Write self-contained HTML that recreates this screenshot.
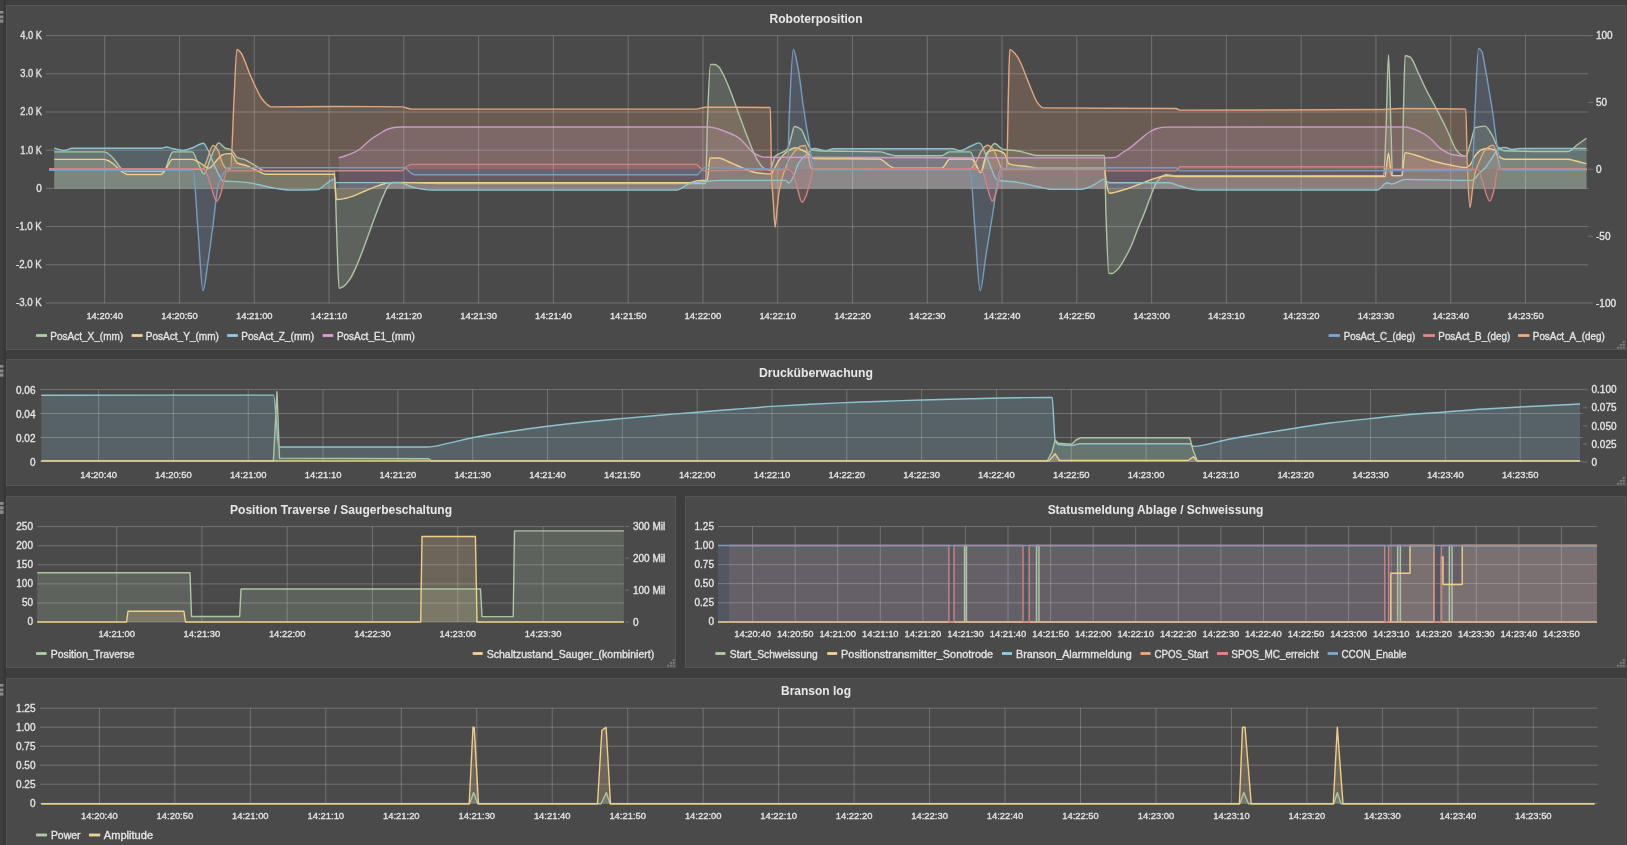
<!DOCTYPE html>
<html><head><meta charset="utf-8"><style>html,body{margin:0;padding:0;background:#3e3e3e;overflow:hidden}svg{display:block;will-change:transform}</style></head>
<body>
<svg width="1627" height="845" viewBox="0 0 1627 845" font-family="Liberation Sans, sans-serif">
<rect width="1627" height="845" fill="#3e3e3e"/>
<defs><clipPath id="c1"><rect x="46" y="30" width="1548" height="275"/></clipPath><clipPath id="c2"><rect x="40" y="385" width="1541" height="78"/></clipPath></defs>
<rect x="3.5" y="0" width="2.5" height="845" fill="#373737"/>
<rect x="6.5" y="5.5" width="1619" height="344" fill="#4b4a4b" stroke="#555555" stroke-width="1"/>
<rect x="0" y="11" width="3.4" height="2.6" fill="#8a8a8a"/>
<rect x="0" y="15.5" width="3.4" height="2.8" fill="#8a8a8a"/>
<rect x="0" y="19.5" width="3.4" height="3.2" fill="#8a8a8a"/>
<text x="816.0" y="23.1" font-size="12" text-anchor="middle" fill="#e8e8e8" stroke="#e8e8e8" stroke-width="0" font-weight="bold" textLength="93" lengthAdjust="spacingAndGlyphs">Roboterposition</text>
<text x="41.8" y="39.0" font-size="10" text-anchor="end" fill="#e6e6e6" stroke="#e6e6e6" stroke-width="0.32" font-weight="normal" textLength="21.5" lengthAdjust="spacingAndGlyphs">4.0 K</text>
<text x="41.8" y="77.2" font-size="10" text-anchor="end" fill="#e6e6e6" stroke="#e6e6e6" stroke-width="0.32" font-weight="normal" textLength="21.5" lengthAdjust="spacingAndGlyphs">3.0 K</text>
<text x="41.8" y="115.4" font-size="10" text-anchor="end" fill="#e6e6e6" stroke="#e6e6e6" stroke-width="0.32" font-weight="normal" textLength="21.5" lengthAdjust="spacingAndGlyphs">2.0 K</text>
<text x="41.8" y="153.6" font-size="10" text-anchor="end" fill="#e6e6e6" stroke="#e6e6e6" stroke-width="0.32" font-weight="normal" textLength="21.5" lengthAdjust="spacingAndGlyphs">1.0 K</text>
<text x="41.8" y="191.8" font-size="10" text-anchor="end" fill="#e6e6e6" stroke="#e6e6e6" stroke-width="0.32" font-weight="normal">0</text>
<text x="41.8" y="230.0" font-size="10" text-anchor="end" fill="#e6e6e6" stroke="#e6e6e6" stroke-width="0.32" font-weight="normal" textLength="25.8" lengthAdjust="spacingAndGlyphs">-1.0 K</text>
<text x="41.8" y="268.2" font-size="10" text-anchor="end" fill="#e6e6e6" stroke="#e6e6e6" stroke-width="0.32" font-weight="normal" textLength="25.8" lengthAdjust="spacingAndGlyphs">-2.0 K</text>
<text x="41.8" y="306.4" font-size="10" text-anchor="end" fill="#e6e6e6" stroke="#e6e6e6" stroke-width="0.32" font-weight="normal" textLength="25.8" lengthAdjust="spacingAndGlyphs">-3.0 K</text>
<text x="1596.0" y="39.2" font-size="10" text-anchor="start" fill="#e6e6e6" stroke="#e6e6e6" stroke-width="0.32" font-weight="normal">100</text>
<line x1="1588.4" y1="35.6" x2="1593" y2="35.6" stroke="#6e6e6e"/>
<text x="1596.0" y="106.0" font-size="10" text-anchor="start" fill="#e6e6e6" stroke="#e6e6e6" stroke-width="0.32" font-weight="normal">50</text>
<line x1="1588.4" y1="102.4" x2="1593" y2="102.4" stroke="#6e6e6e"/>
<text x="1596.0" y="172.9" font-size="10" text-anchor="start" fill="#e6e6e6" stroke="#e6e6e6" stroke-width="0.32" font-weight="normal">0</text>
<line x1="1588.4" y1="169.3" x2="1593" y2="169.3" stroke="#6e6e6e"/>
<text x="1596.0" y="239.8" font-size="10" text-anchor="start" fill="#e6e6e6" stroke="#e6e6e6" stroke-width="0.32" font-weight="normal">-50</text>
<line x1="1588.4" y1="236.2" x2="1593" y2="236.2" stroke="#6e6e6e"/>
<text x="1596.0" y="306.6" font-size="10" text-anchor="start" fill="#e6e6e6" stroke="#e6e6e6" stroke-width="0.32" font-weight="normal">-100</text>
<line x1="1588.4" y1="303" x2="1593" y2="303" stroke="#6e6e6e"/>
<text x="104.7" y="318.7" font-size="9.7" text-anchor="middle" fill="#e6e6e6" stroke="#e6e6e6" stroke-width="0.32" font-weight="normal" textLength="36.6" lengthAdjust="spacingAndGlyphs">14:20:40</text>
<text x="179.5" y="318.7" font-size="9.7" text-anchor="middle" fill="#e6e6e6" stroke="#e6e6e6" stroke-width="0.32" font-weight="normal" textLength="36.6" lengthAdjust="spacingAndGlyphs">14:20:50</text>
<text x="254.3" y="318.7" font-size="9.7" text-anchor="middle" fill="#e6e6e6" stroke="#e6e6e6" stroke-width="0.32" font-weight="normal" textLength="36.6" lengthAdjust="spacingAndGlyphs">14:21:00</text>
<text x="329.0" y="318.7" font-size="9.7" text-anchor="middle" fill="#e6e6e6" stroke="#e6e6e6" stroke-width="0.32" font-weight="normal" textLength="36.6" lengthAdjust="spacingAndGlyphs">14:21:10</text>
<text x="403.8" y="318.7" font-size="9.7" text-anchor="middle" fill="#e6e6e6" stroke="#e6e6e6" stroke-width="0.32" font-weight="normal" textLength="36.6" lengthAdjust="spacingAndGlyphs">14:21:20</text>
<text x="478.6" y="318.7" font-size="9.7" text-anchor="middle" fill="#e6e6e6" stroke="#e6e6e6" stroke-width="0.32" font-weight="normal" textLength="36.6" lengthAdjust="spacingAndGlyphs">14:21:30</text>
<text x="553.4" y="318.7" font-size="9.7" text-anchor="middle" fill="#e6e6e6" stroke="#e6e6e6" stroke-width="0.32" font-weight="normal" textLength="36.6" lengthAdjust="spacingAndGlyphs">14:21:40</text>
<text x="628.2" y="318.7" font-size="9.7" text-anchor="middle" fill="#e6e6e6" stroke="#e6e6e6" stroke-width="0.32" font-weight="normal" textLength="36.6" lengthAdjust="spacingAndGlyphs">14:21:50</text>
<text x="702.9" y="318.7" font-size="9.7" text-anchor="middle" fill="#e6e6e6" stroke="#e6e6e6" stroke-width="0.32" font-weight="normal" textLength="36.6" lengthAdjust="spacingAndGlyphs">14:22:00</text>
<text x="777.7" y="318.7" font-size="9.7" text-anchor="middle" fill="#e6e6e6" stroke="#e6e6e6" stroke-width="0.32" font-weight="normal" textLength="36.6" lengthAdjust="spacingAndGlyphs">14:22:10</text>
<text x="852.5" y="318.7" font-size="9.7" text-anchor="middle" fill="#e6e6e6" stroke="#e6e6e6" stroke-width="0.32" font-weight="normal" textLength="36.6" lengthAdjust="spacingAndGlyphs">14:22:20</text>
<text x="927.3" y="318.7" font-size="9.7" text-anchor="middle" fill="#e6e6e6" stroke="#e6e6e6" stroke-width="0.32" font-weight="normal" textLength="36.6" lengthAdjust="spacingAndGlyphs">14:22:30</text>
<text x="1002.1" y="318.7" font-size="9.7" text-anchor="middle" fill="#e6e6e6" stroke="#e6e6e6" stroke-width="0.32" font-weight="normal" textLength="36.6" lengthAdjust="spacingAndGlyphs">14:22:40</text>
<text x="1076.8" y="318.7" font-size="9.7" text-anchor="middle" fill="#e6e6e6" stroke="#e6e6e6" stroke-width="0.32" font-weight="normal" textLength="36.6" lengthAdjust="spacingAndGlyphs">14:22:50</text>
<text x="1151.6" y="318.7" font-size="9.7" text-anchor="middle" fill="#e6e6e6" stroke="#e6e6e6" stroke-width="0.32" font-weight="normal" textLength="36.6" lengthAdjust="spacingAndGlyphs">14:23:00</text>
<text x="1226.4" y="318.7" font-size="9.7" text-anchor="middle" fill="#e6e6e6" stroke="#e6e6e6" stroke-width="0.32" font-weight="normal" textLength="36.6" lengthAdjust="spacingAndGlyphs">14:23:10</text>
<text x="1301.2" y="318.7" font-size="9.7" text-anchor="middle" fill="#e6e6e6" stroke="#e6e6e6" stroke-width="0.32" font-weight="normal" textLength="36.6" lengthAdjust="spacingAndGlyphs">14:23:20</text>
<text x="1376.0" y="318.7" font-size="9.7" text-anchor="middle" fill="#e6e6e6" stroke="#e6e6e6" stroke-width="0.32" font-weight="normal" textLength="36.6" lengthAdjust="spacingAndGlyphs">14:23:30</text>
<text x="1450.7" y="318.7" font-size="9.7" text-anchor="middle" fill="#e6e6e6" stroke="#e6e6e6" stroke-width="0.32" font-weight="normal" textLength="36.6" lengthAdjust="spacingAndGlyphs">14:23:40</text>
<text x="1525.5" y="318.7" font-size="9.7" text-anchor="middle" fill="#e6e6e6" stroke="#e6e6e6" stroke-width="0.32" font-weight="normal" textLength="36.6" lengthAdjust="spacingAndGlyphs">14:23:50</text>
<rect x="36.1" y="334.09999999999997" width="10.899999999999999" height="2.8" fill="#b0cea5"/>
<text x="50.3" y="339.8" font-size="10.4" text-anchor="start" fill="#e6e6e6" stroke="#e6e6e6" stroke-width="0.32" font-weight="normal" textLength="72.9" lengthAdjust="spacingAndGlyphs">PosAct_X_(mm)</text>
<rect x="131.6" y="334.09999999999997" width="11.0" height="2.8" fill="#f1d492"/>
<text x="145.8" y="339.8" font-size="10.4" text-anchor="start" fill="#e6e6e6" stroke="#e6e6e6" stroke-width="0.32" font-weight="normal" textLength="73.1" lengthAdjust="spacingAndGlyphs">PosAct_Y_(mm)</text>
<rect x="227.2" y="334.09999999999997" width="10.600000000000023" height="2.8" fill="#89cfde"/>
<text x="241.3" y="339.8" font-size="10.4" text-anchor="start" fill="#e6e6e6" stroke="#e6e6e6" stroke-width="0.32" font-weight="normal" textLength="72.8" lengthAdjust="spacingAndGlyphs">PosAct_Z_(mm)</text>
<rect x="322.7" y="334.09999999999997" width="10.5" height="2.8" fill="#da9ed4"/>
<text x="336.9" y="339.8" font-size="10.4" text-anchor="start" fill="#e6e6e6" stroke="#e6e6e6" stroke-width="0.32" font-weight="normal" textLength="77.9" lengthAdjust="spacingAndGlyphs">PosAct_E1_(mm)</text>
<rect x="1328.6" y="334.09999999999997" width="11.300000000000182" height="2.8" fill="#78a9d2"/>
<text x="1343.8" y="339.8" font-size="10.4" text-anchor="start" fill="#e6e6e6" stroke="#e6e6e6" stroke-width="0.32" font-weight="normal" textLength="71.4" lengthAdjust="spacingAndGlyphs">PosAct_C_(deg)</text>
<rect x="1423.1" y="334.09999999999997" width="11.800000000000182" height="2.8" fill="#e78683"/>
<text x="1438.3" y="339.8" font-size="10.4" text-anchor="start" fill="#e6e6e6" stroke="#e6e6e6" stroke-width="0.32" font-weight="normal" textLength="71.9" lengthAdjust="spacingAndGlyphs">PosAct_B_(deg)</text>
<rect x="1518.1" y="334.09999999999997" width="11.300000000000182" height="2.8" fill="#f4aa79"/>
<text x="1532.8" y="339.8" font-size="10.4" text-anchor="start" fill="#e6e6e6" stroke="#e6e6e6" stroke-width="0.32" font-weight="normal" textLength="71.9" lengthAdjust="spacingAndGlyphs">PosAct_A_(deg)</text>
<rect x="1622.7" y="341.1" width="2" height="2" fill="#7c7c7c"/>
<rect x="1622.7" y="343.9" width="2" height="2" fill="#7c7c7c"/>
<rect x="1619.9" y="343.9" width="2" height="2" fill="#7c7c7c"/>
<rect x="1622.7" y="346.7" width="2" height="2" fill="#7c7c7c"/>
<rect x="1619.9" y="346.7" width="2" height="2" fill="#7c7c7c"/>
<rect x="1617.1" y="346.7" width="2" height="2" fill="#7c7c7c"/>
<g clip-path="url(#c1)"><path d="M54.20,151.90 C70.77,151.90 87.33,151.90 103.90,151.90 C105.27,151.90 106.63,152.77 108.00,153.50 C109.67,154.40 111.33,156.23 113.00,158.00 C114.67,159.77 116.33,162.38 118.00,164.50 C119.33,166.20 120.67,168.37 122.00,169.50 C123.07,170.41 124.13,171.60 125.20,171.60 C137.67,171.60 150.13,171.60 162.60,171.60 C163.73,171.60 164.87,169.79 166.00,168.00 C167.00,166.42 168.00,161.29 169.00,159.00 C170.30,156.02 171.60,151.90 172.90,151.90 C179.37,151.90 185.83,151.90 192.30,151.90 C194.20,151.90 196.10,159.40 198.00,163.00 C199.97,166.73 201.93,173.90 203.90,173.90 C205.93,173.90 207.97,164.86 210.00,160.00 C211.33,156.81 212.67,152.50 214.00,150.00 C215.60,147.00 217.20,142.90 218.80,142.90 C220.87,142.90 222.93,147.30 225.00,148.10 C226.97,148.86 228.93,148.78 230.90,149.60 C233.10,150.52 235.30,156.78 237.50,157.70 C239.47,158.52 241.43,158.55 243.40,159.20 C247.10,160.43 250.80,163.14 254.50,165.10 C258.43,167.18 262.37,171.30 266.30,171.30 C289.03,171.30 311.77,171.30 334.50,171.30 C335.20,171.30 335.90,212.15 336.60,230.00 C337.43,251.24 338.27,288.30 339.10,288.30 C340.47,288.30 341.83,287.46 343.20,286.70 C345.43,285.46 347.67,282.41 349.90,279.20 C352.10,276.04 354.30,270.90 356.50,266.00 C358.70,261.10 360.90,255.19 363.10,249.40 C365.30,243.61 367.50,237.22 369.70,231.20 C371.93,225.09 374.17,218.83 376.40,213.00 C378.60,207.25 380.80,201.30 383.00,196.40 C384.63,192.76 386.27,188.41 387.90,186.50 C389.57,184.55 391.23,182.40 392.90,182.40 C395.10,182.40 397.30,182.40 399.50,182.40 C409.43,182.40 419.37,182.88 429.30,183.20 C432.87,183.31 436.43,183.60 440.00,183.60 C528.53,183.60 617.07,183.60 705.60,183.60 C706.23,183.60 706.87,135.74 707.50,120.00 C708.47,95.98 709.43,64.40 710.40,64.40 C711.93,64.40 713.47,64.43 715.00,64.50 C716.27,64.55 717.53,65.81 718.80,67.00 C720.20,68.31 721.60,71.34 723.00,74.00 C724.80,77.42 726.60,81.75 728.40,86.10 C731.60,93.83 734.80,103.12 738.00,111.70 C741.17,120.19 744.33,129.40 747.50,137.30 C750.70,145.29 753.90,154.43 757.10,159.60 C759.30,163.15 761.50,166.70 763.70,168.00 C765.67,169.16 767.63,170.30 769.60,170.30 C771.57,170.30 773.53,158.12 775.50,156.10 C779.47,152.03 783.43,153.50 787.40,149.00 C788.60,147.64 789.80,141.80 791.00,138.00 C792.17,134.31 793.33,126.50 794.50,126.50 C796.87,126.50 799.23,127.98 801.60,130.00 C803.07,131.25 804.53,137.08 806.00,140.00 C807.70,143.39 809.40,148.21 811.10,149.00 C813.47,150.09 815.83,150.70 818.20,150.80 C838.80,151.69 859.40,151.01 880.00,151.90 C882.67,152.01 885.33,153.33 888.00,154.00 C890.50,154.63 893.00,155.80 895.50,155.80 C911.00,155.80 926.50,155.80 942.00,155.80 C943.33,155.80 944.67,154.16 946.00,153.50 C947.23,152.89 948.47,151.90 949.70,151.90 C956.60,151.90 963.50,151.90 970.40,151.90 C971.93,151.90 973.47,158.90 975.00,162.00 C976.90,165.84 978.80,172.60 980.70,172.60 C982.80,172.60 984.90,159.13 987.00,155.00 C989.57,149.95 992.13,143.50 994.70,143.50 C997.23,143.50 999.77,148.54 1002.30,149.10 C1007.67,150.30 1013.03,150.10 1018.40,151.00 C1021.60,151.54 1024.80,152.75 1028.00,153.50 C1031.10,154.23 1034.20,155.50 1037.30,155.50 C1059.70,155.50 1082.10,155.50 1104.50,155.50 C1105.00,155.50 1105.50,200.92 1106.00,215.00 C1106.93,241.29 1107.87,273.02 1108.80,273.20 C1109.87,273.40 1110.93,273.50 1112.00,273.50 C1114.13,273.50 1116.27,270.65 1118.40,268.40 C1120.60,266.08 1122.80,261.83 1125.00,258.00 C1127.07,254.41 1129.13,250.58 1131.20,246.00 C1133.13,241.71 1135.07,235.85 1137.00,231.00 C1139.33,225.15 1141.67,219.94 1144.00,214.00 C1146.00,208.91 1148.00,203.04 1150.00,198.00 C1152.23,192.37 1154.47,185.18 1156.70,182.00 C1158.47,179.48 1160.23,177.62 1162.00,176.50 C1163.43,175.59 1164.87,174.50 1166.30,174.50 C1169.20,174.50 1172.10,175.70 1175.00,175.70 C1244.57,175.70 1314.13,175.70 1383.70,175.70 C1384.47,175.70 1385.23,148.30 1386.00,130.00 C1386.83,110.11 1387.67,54.80 1388.50,54.80 C1389.33,54.80 1390.17,104.79 1391.00,130.00 C1391.50,145.13 1392.00,175.60 1392.50,175.60 C1395.67,175.60 1398.83,175.60 1402.00,175.60 C1402.50,175.60 1403.00,129.12 1403.50,110.00 C1404.03,89.61 1404.57,55.80 1405.10,55.80 C1406.73,55.80 1408.37,56.33 1410.00,57.00 C1412.63,58.08 1415.27,66.67 1417.90,72.00 C1420.37,76.99 1422.83,83.02 1425.30,88.00 C1428.67,94.80 1432.03,100.55 1435.40,107.00 C1438.73,113.38 1442.07,119.52 1445.40,126.50 C1447.27,130.41 1449.13,134.91 1451.00,139.00 C1452.50,142.29 1454.00,146.42 1455.50,148.70 C1457.00,150.98 1458.50,153.06 1460.00,154.00 C1461.93,155.21 1463.87,156.40 1465.80,156.40 C1467.20,156.40 1468.60,149.10 1470.00,145.00 C1471.80,139.73 1473.60,128.32 1475.40,127.70 C1478.60,126.59 1481.80,126.10 1485.00,126.10 C1487.33,126.10 1489.67,131.32 1492.00,135.00 C1493.93,138.05 1495.87,144.97 1497.80,146.80 C1499.93,148.82 1502.07,150.63 1504.20,150.70 C1525.40,151.41 1546.60,151.50 1567.80,151.50 C1570.87,151.50 1573.93,147.18 1577.00,145.00 C1580.17,142.75 1583.33,140.47 1586.50,138.20 L1586.5,188.4 L54.2,188.4 Z" fill="#a3bc9a" fill-opacity="0.22" stroke="none"/><path d="M54.20,159.40 C70.77,159.40 87.33,159.40 103.90,159.40 C105.27,159.40 106.63,159.99 108.00,160.50 C110.00,161.25 112.00,162.96 114.00,164.50 C116.00,166.04 118.00,168.36 120.00,170.00 C121.33,171.09 122.67,172.31 124.00,173.00 C125.27,173.65 126.53,174.50 127.80,174.50 C138.77,174.50 149.73,174.50 160.70,174.50 C161.80,174.50 162.90,173.15 164.00,172.00 C165.33,170.61 166.67,166.99 168.00,165.00 C169.43,162.86 170.87,159.40 172.30,159.40 C178.97,159.40 185.63,159.40 192.30,159.40 C194.87,159.40 197.43,161.69 200.00,163.00 C203.00,164.53 206.00,168.10 209.00,168.10 C211.67,168.10 214.33,162.68 217.00,160.00 C218.67,158.32 220.33,155.72 222.00,155.00 C223.30,154.44 224.60,154.03 225.90,153.90 C227.60,153.73 229.30,153.60 231.00,153.60 C233.17,153.60 235.33,162.16 237.50,163.20 C240.70,164.73 243.90,164.69 247.10,165.80 C250.07,166.82 253.03,168.68 256.00,170.00 C259.43,171.52 262.87,174.30 266.30,174.30 C288.90,174.30 311.50,174.30 334.10,174.30 C334.87,174.30 335.63,199.50 336.40,199.50 C339.27,199.50 342.13,198.98 345.00,198.50 C347.50,198.08 350.00,197.15 352.50,196.30 C356.67,194.88 360.83,192.69 365.00,191.00 C370.00,188.97 375.00,186.83 380.00,185.20 C383.00,184.22 386.00,182.60 389.00,182.60 C489.20,182.60 589.40,182.60 689.60,182.60 C692.40,182.60 695.20,180.71 698.00,180.60 C701.07,180.48 704.13,180.56 707.20,180.40 C708.13,180.35 709.07,158.00 710.00,158.00 C712.93,158.00 715.87,158.00 718.80,158.00 C721.87,158.00 724.93,160.24 728.00,161.50 C731.33,162.87 734.67,164.65 738.00,166.00 C744.20,168.51 750.40,171.87 756.60,172.70 C761.33,173.33 766.07,173.90 770.80,173.90 C772.20,173.90 773.60,169.27 775.00,167.00 C776.77,164.13 778.53,160.67 780.30,158.50 C782.87,155.34 785.43,152.50 788.00,151.00 C790.57,149.50 793.13,147.80 795.70,147.80 C797.80,147.80 799.90,149.10 802.00,150.00 C804.23,150.95 806.47,152.09 808.70,153.70 C810.30,154.86 811.90,158.47 813.50,158.50 C835.67,158.96 857.83,158.54 880.00,159.00 C881.33,159.03 882.67,160.57 884.00,161.50 C885.67,162.66 887.33,164.47 889.00,165.50 C890.73,166.57 892.47,168.10 894.20,168.10 C910.13,168.10 926.07,168.10 942.00,168.10 C943.00,168.10 944.00,166.13 945.00,165.00 C946.57,163.22 948.13,159.00 949.70,159.00 C957.03,159.00 964.37,159.00 971.70,159.00 C973.13,159.00 974.57,162.94 976.00,165.00 C977.67,167.39 979.33,172.40 981.00,172.40 C982.00,172.40 983.00,165.14 984.00,162.00 C985.17,158.34 986.33,152.63 987.50,152.00 C990.00,150.64 992.50,150.00 995.00,150.00 C998.07,150.00 1001.13,151.30 1004.20,153.40 C1005.77,154.48 1007.33,163.26 1008.90,163.80 C1015.23,165.99 1021.57,165.75 1027.90,166.70 C1031.03,167.17 1034.17,168.10 1037.30,168.10 C1059.70,168.10 1082.10,168.10 1104.50,168.10 C1105.00,168.10 1105.50,177.23 1106.00,180.00 C1107.10,186.10 1108.20,193.20 1109.30,193.20 C1112.20,193.20 1115.10,192.18 1118.00,191.50 C1121.33,190.71 1124.67,189.61 1128.00,188.50 C1132.00,187.17 1136.00,185.51 1140.00,184.00 C1144.50,182.31 1149.00,180.25 1153.50,178.90 C1157.77,177.62 1162.03,175.70 1166.30,175.70 C1169.53,175.70 1172.77,176.60 1176.00,176.60 C1245.67,176.60 1315.33,176.60 1385.00,176.60 C1386.17,176.60 1387.33,153.30 1388.50,153.30 C1389.57,153.30 1390.63,175.60 1391.70,175.60 C1395.13,175.60 1398.57,175.60 1402.00,175.60 C1403.00,175.60 1404.00,152.60 1405.00,152.60 C1408.33,152.60 1411.67,154.09 1415.00,155.00 C1421.30,156.72 1427.60,159.48 1433.90,161.20 C1439.27,162.67 1444.63,163.96 1450.00,165.00 C1455.27,166.02 1460.53,167.60 1465.80,167.60 C1467.20,167.60 1468.60,166.27 1470.00,165.00 C1471.67,163.49 1473.33,158.11 1475.00,156.00 C1477.27,153.12 1479.53,150.12 1481.80,149.50 C1483.87,148.94 1485.93,148.50 1488.00,148.50 C1490.20,148.50 1492.40,149.15 1494.60,150.00 C1496.73,150.82 1498.87,157.11 1501.00,158.00 C1502.67,158.70 1504.33,159.30 1506.00,159.30 C1526.60,159.30 1547.20,159.30 1567.80,159.30 C1570.53,159.30 1573.27,160.37 1576.00,161.00 C1579.50,161.81 1583.00,162.87 1586.50,163.80 L1586.5,188.4 L54.2,188.4 Z" fill="#e2ca93" fill-opacity="0.22" stroke="none"/><path d="M54.20,148.30 C57.63,149.00 61.07,150.40 64.50,150.40 C67.10,150.40 69.70,148.30 72.30,148.30 C101.97,148.30 131.63,148.30 161.30,148.30 C163.03,148.30 164.77,147.00 166.50,147.00 C168.33,147.00 170.17,148.11 172.00,148.50 C175.77,149.31 179.53,150.40 183.30,150.40 C186.20,150.40 189.10,148.96 192.00,148.00 C195.77,146.75 199.53,143.20 203.30,143.20 C204.87,143.20 206.43,147.18 208.00,150.00 C209.67,153.00 211.33,158.17 213.00,162.00 C214.67,165.83 216.33,170.01 218.00,173.00 C219.77,176.17 221.53,180.82 223.30,181.00 C227.60,181.45 231.90,181.33 236.20,181.60 C240.80,181.89 245.40,182.29 250.00,182.90 C254.00,183.43 258.00,184.65 262.00,185.50 C266.60,186.48 271.20,187.72 275.80,188.40 C280.53,189.10 285.27,190.00 290.00,190.00 C299.33,190.00 308.67,189.89 318.00,189.50 C320.67,189.39 323.33,185.74 326.00,184.00 C328.47,182.39 330.93,179.40 333.40,179.40 C334.43,179.40 335.47,182.60 336.50,182.60 C357.67,182.60 378.83,182.60 400.00,182.60 C404.00,182.60 408.00,186.08 412.00,187.00 C418.23,188.43 424.47,190.00 430.70,190.00 C512.73,190.00 594.77,190.00 676.80,190.00 C681.07,190.00 685.33,184.53 689.60,183.60 C694.73,182.48 699.87,181.99 705.00,181.50 C710.00,181.02 715.00,180.40 720.00,180.40 C741.97,180.40 763.93,180.40 785.90,180.40 C786.93,180.40 787.97,183.00 789.00,183.00 C790.67,183.00 792.33,178.31 794.00,175.00 C795.57,171.89 797.13,165.25 798.70,162.80 C801.13,159.00 803.57,157.16 806.00,155.00 C808.87,152.45 811.73,148.50 814.60,148.50 C818.33,148.50 822.07,150.70 825.80,150.70 C828.40,150.70 831.00,148.70 833.60,148.70 C873.17,148.70 912.73,148.70 952.30,148.70 C954.87,148.70 957.43,150.70 960.00,150.70 C963.33,150.70 966.67,147.83 970.00,146.50 C973.13,145.25 976.27,142.90 979.40,142.90 C982.27,142.90 985.13,154.10 988.00,160.00 C991.17,166.52 994.33,179.69 997.50,180.30 C1002.90,181.34 1008.30,181.13 1013.70,181.80 C1021.57,182.77 1029.43,184.91 1037.30,186.50 C1042.03,187.46 1046.77,189.40 1051.50,189.40 C1061.00,189.40 1070.50,189.40 1080.00,189.40 C1083.13,189.40 1086.27,188.09 1089.40,187.00 C1091.93,186.12 1094.47,184.36 1097.00,183.00 C1099.20,181.82 1101.40,179.40 1103.60,179.40 C1105.50,179.40 1107.40,182.70 1109.30,182.70 C1129.37,182.70 1149.43,182.70 1169.50,182.70 C1173.00,182.70 1176.50,185.08 1180.00,186.00 C1186.10,187.60 1192.20,190.00 1198.30,190.00 C1257.97,190.00 1317.63,190.00 1377.30,190.00 C1380.53,190.00 1383.77,182.70 1387.00,182.70 C1388.67,182.70 1390.33,184.00 1392.00,184.00 C1396.37,184.00 1400.73,179.40 1405.10,179.40 C1427.47,179.40 1449.83,180.40 1472.20,180.40 C1474.57,180.40 1476.93,175.36 1479.30,173.10 C1481.20,171.29 1483.10,170.07 1485.00,168.00 C1487.33,165.45 1489.67,161.25 1492.00,158.00 C1494.33,154.75 1496.67,149.18 1499.00,148.50 C1501.00,147.92 1503.00,147.50 1505.00,147.50 C1507.33,147.50 1509.67,149.50 1512.00,149.50 C1514.67,149.50 1517.33,148.50 1520.00,148.50 C1542.17,148.50 1564.33,148.50 1586.50,148.50 L1586.5,188.4 L54.2,188.4 Z" fill="#81bbc8" fill-opacity="0.22" stroke="none"/><path d="M338.80,158.00 C343.37,156.40 347.93,155.21 352.50,153.20 C355.00,152.10 357.50,150.75 360.00,149.00 C362.00,147.60 364.00,145.25 366.00,143.50 C368.00,141.75 370.00,139.94 372.00,138.50 C374.67,136.58 377.33,135.09 380.00,133.50 C382.33,132.11 384.67,130.39 387.00,129.50 C389.33,128.61 391.67,127.80 394.00,127.50 C396.00,127.25 398.00,127.00 400.00,127.00 C502.93,127.00 605.87,127.00 708.80,127.00 C710.53,127.00 712.27,127.46 714.00,127.80 C716.00,128.20 718.00,128.85 720.00,129.50 C723.00,130.47 726.00,131.71 729.00,133.00 C732.00,134.29 735.00,135.37 738.00,137.30 C740.67,139.01 743.33,142.34 746.00,145.00 C748.63,147.63 751.27,151.64 753.90,153.20 C757.10,155.10 760.30,156.99 763.50,157.10 C767.50,157.23 771.50,157.28 775.50,157.30 C885.67,157.78 995.83,157.90 1106.00,157.90 C1109.07,157.90 1112.13,157.72 1115.20,157.40 C1117.47,157.16 1119.73,154.48 1122.00,153.00 C1125.07,150.99 1128.13,149.18 1131.20,146.90 C1134.13,144.72 1137.07,141.87 1140.00,139.50 C1143.43,136.72 1146.87,133.41 1150.30,131.50 C1152.53,130.25 1154.77,129.08 1157.00,128.50 C1159.57,127.83 1162.13,127.10 1164.70,127.10 C1244.83,127.00 1324.97,127.00 1405.10,127.00 C1407.40,127.00 1409.70,127.85 1412.00,128.50 C1416.10,129.66 1420.20,131.62 1424.30,134.00 C1426.87,135.49 1429.43,137.74 1432.00,140.00 C1434.77,142.43 1437.53,146.31 1440.30,148.40 C1442.53,150.09 1444.77,151.45 1447.00,152.50 C1449.00,153.44 1451.00,154.40 1453.00,154.80 C1457.27,155.66 1461.53,155.87 1465.80,156.40 L1465.8,188.4 L338.8,188.4 Z" fill="#c290bd" fill-opacity="0.22" stroke="none"/><path d="M49.00,169.30 C100.20,169.30 151.40,169.30 202.60,169.30 C204.07,169.30 205.53,163.30 207.00,160.00 C209.00,155.51 211.00,145.50 213.00,145.50 C214.67,145.50 216.33,147.65 218.00,150.00 C219.33,151.88 220.67,159.26 222.00,162.00 C223.30,164.67 224.60,167.64 225.90,168.10 C227.43,168.64 228.97,169.00 230.50,169.00 C231.67,169.00 232.83,121.56 234.00,100.00 C234.97,82.14 235.93,49.40 236.90,49.40 C238.27,49.40 239.63,51.31 241.00,53.00 C243.03,55.51 245.07,62.05 247.10,67.00 C248.40,70.16 249.70,73.94 251.00,77.00 C252.90,81.48 254.80,85.46 256.70,89.30 C258.13,92.19 259.57,95.40 261.00,97.50 C262.77,100.08 264.53,102.19 266.30,103.70 C267.87,105.04 269.43,106.90 271.00,106.90 C292.83,106.90 314.67,106.50 336.50,106.50 C358.33,106.50 380.17,106.56 402.00,106.90 C405.17,106.95 408.33,109.10 411.50,109.10 C506.33,109.10 601.17,109.10 696.00,109.10 C699.20,109.10 702.40,107.20 705.60,107.20 C727.17,107.20 748.73,107.21 770.30,107.50 C770.70,107.51 771.10,162.27 771.50,172.70 C772.17,190.08 772.83,195.08 773.50,205.00 C774.03,212.94 774.57,227.20 775.10,227.20 C775.73,227.20 776.37,215.63 777.00,210.00 C777.70,203.78 778.40,195.76 779.10,191.70 C780.67,182.62 782.23,177.44 783.80,172.70 C785.87,166.45 787.93,161.61 790.00,158.00 C791.67,155.09 793.33,152.83 795.00,151.00 C796.67,149.17 798.33,147.03 800.00,146.50 C801.73,145.95 803.47,145.50 805.20,145.50 C806.13,145.50 807.07,151.51 808.00,155.00 C809.03,158.87 810.07,167.17 811.10,168.00 C812.07,168.78 813.03,169.30 814.00,169.30 C865.97,169.30 917.93,169.30 969.90,169.30 C971.93,169.30 973.97,165.05 976.00,162.00 C978.00,159.00 980.00,152.38 982.00,150.00 C983.83,147.82 985.67,145.30 987.50,145.30 C989.33,145.30 991.17,147.09 993.00,149.00 C994.67,150.73 996.33,156.43 998.00,160.00 C999.43,163.07 1000.87,169.00 1002.30,169.00 C1003.77,169.00 1005.23,169.00 1006.70,169.00 C1007.30,169.00 1007.90,111.70 1008.50,90.00 C1008.93,74.33 1009.37,49.40 1009.80,49.40 C1010.87,49.40 1011.93,50.61 1013.00,51.50 C1014.60,52.84 1016.20,54.93 1017.80,57.40 C1019.20,59.56 1020.60,62.84 1022.00,66.00 C1023.80,70.06 1025.60,75.21 1027.40,79.70 C1028.93,83.53 1030.47,87.42 1032.00,91.00 C1033.67,94.89 1035.33,99.92 1037.00,102.10 C1039.13,104.89 1041.27,107.87 1043.40,107.90 C1087.60,108.47 1131.80,107.93 1176.00,108.50 C1177.33,108.52 1178.67,110.10 1180.00,110.10 C1247.67,110.10 1315.33,110.01 1383.00,109.50 C1388.67,109.46 1394.33,108.50 1400.00,108.50 C1421.93,108.50 1443.87,108.51 1465.80,109.10 C1466.33,109.11 1466.87,157.51 1467.40,169.20 C1468.27,188.20 1469.13,207.50 1470.00,207.50 C1471.00,207.50 1472.00,191.25 1473.00,185.00 C1473.80,180.00 1474.60,174.92 1475.40,172.00 C1476.93,166.40 1478.47,163.48 1480.00,160.00 C1481.67,156.22 1483.33,151.60 1485.00,150.00 C1487.67,147.43 1490.33,145.20 1493.00,145.20 C1494.33,145.20 1495.67,151.13 1497.00,155.00 C1498.33,158.87 1499.67,169.20 1501.00,169.20 C1529.67,169.30 1558.33,169.27 1587.00,169.30 L1587.0,169.3 L49.0,169.3 Z" fill="#d99c73" fill-opacity="0.22" stroke="none"/><path d="M49.00,170.30 C97.00,170.30 145.00,170.30 193.00,170.30 C194.67,170.30 196.33,209.95 198.00,230.00 C199.67,250.05 201.33,290.60 203.00,290.60 C204.67,290.60 206.33,272.75 208.00,262.00 C209.67,251.25 211.33,237.42 213.00,225.00 C214.77,211.83 216.53,191.61 218.30,185.20 C219.53,180.73 220.77,178.40 222.00,176.00 C223.43,173.21 224.87,170.83 226.30,169.20 C226.87,168.55 227.43,167.60 228.00,167.60 C287.00,167.60 346.00,167.60 405.00,167.60 C406.33,167.60 407.67,170.53 409.00,171.50 C410.90,172.88 412.80,174.70 414.70,174.70 C509.00,174.70 603.30,174.70 697.60,174.70 C698.73,174.70 699.87,172.26 701.00,171.00 C702.00,169.89 703.00,167.60 704.00,167.60 C731.80,167.60 759.60,169.10 787.40,169.10 C788.10,169.10 788.80,124.63 789.50,110.00 C790.77,83.53 792.03,49.50 793.30,49.50 C794.87,49.50 796.43,60.13 798.00,68.00 C800.00,78.04 802.00,97.90 804.00,111.00 C805.97,123.88 807.93,134.51 809.90,146.60 C811.10,153.98 812.30,168.48 813.50,169.10 C814.60,169.67 815.70,170.00 816.80,170.00 C867.83,170.00 918.87,170.00 969.90,170.00 C971.60,170.00 973.30,209.88 975.00,230.00 C976.70,250.12 978.40,290.70 980.10,290.70 C982.07,290.70 984.03,266.99 986.00,255.00 C988.33,240.78 990.67,226.00 993.00,212.00 C995.43,197.40 997.87,170.23 1000.30,169.20 C1001.87,168.54 1003.43,168.10 1005.00,168.10 C1038.17,168.10 1071.33,168.10 1104.50,168.10 C1105.47,168.10 1106.43,167.70 1107.40,167.70 C1130.27,167.70 1153.13,167.70 1176.00,167.70 C1177.33,167.70 1178.67,170.90 1180.00,170.90 C1277.40,170.90 1374.80,170.90 1472.20,170.50 C1473.13,170.50 1474.07,127.91 1475.00,110.00 C1476.20,86.97 1477.40,48.40 1478.60,48.40 C1479.73,48.40 1480.87,49.99 1482.00,52.00 C1483.00,53.77 1484.00,61.67 1485.00,67.00 C1486.33,74.11 1487.67,82.03 1489.00,90.00 C1490.33,97.97 1491.67,105.82 1493.00,114.90 C1494.33,123.98 1495.67,136.06 1497.00,145.00 C1498.33,153.94 1499.67,168.62 1501.00,169.20 C1502.33,169.78 1503.67,170.10 1505.00,170.10 C1532.33,170.10 1559.67,170.10 1587.00,170.10 L1587.0,169.3 L49.0,169.3 Z" fill="#678fb2" fill-opacity="0.22" stroke="none"/><path d="M49.00,168.70 C100.20,168.70 151.40,168.70 202.60,168.70 C203.73,168.70 204.87,170.42 206.00,172.00 C207.67,174.33 209.33,181.46 211.00,186.00 C212.90,191.18 214.80,201.10 216.70,201.10 C217.80,201.10 218.90,198.41 220.00,196.00 C221.00,193.81 222.00,188.80 223.00,185.00 C224.10,180.82 225.20,172.67 226.30,172.00 C227.53,171.25 228.77,170.80 230.00,170.80 C287.33,170.80 344.67,170.80 402.00,170.80 C403.33,170.80 404.67,167.86 406.00,167.00 C407.83,165.82 409.67,164.40 411.50,164.40 C506.33,164.40 601.17,164.40 696.00,164.40 C697.33,164.40 698.67,166.43 700.00,167.50 C701.33,168.57 702.67,170.80 704.00,170.80 C731.80,170.80 759.60,169.50 787.40,169.50 C789.03,169.50 790.67,170.53 792.30,172.00 C793.53,173.11 794.77,179.23 796.00,183.00 C798.03,189.22 800.07,202.30 802.10,202.30 C803.40,202.30 804.70,198.87 806.00,196.00 C807.33,193.06 808.67,186.79 810.00,182.00 C811.17,177.81 812.33,169.11 813.50,169.10 C866.23,168.71 918.97,168.70 971.70,168.70 C975.37,168.70 979.03,169.71 982.70,172.00 C984.13,172.90 985.57,181.62 987.00,186.00 C988.77,191.40 990.53,201.20 992.30,201.20 C993.53,201.20 994.77,196.66 996.00,193.00 C997.00,190.03 998.00,183.94 999.00,180.00 C999.97,176.19 1000.93,169.50 1001.90,169.50 C1036.10,169.50 1070.30,169.50 1104.50,169.50 C1105.47,169.50 1106.43,170.90 1107.40,170.90 C1130.27,170.90 1153.13,170.90 1176.00,170.90 C1177.33,170.90 1178.67,166.70 1180.00,166.70 C1247.67,166.70 1315.33,166.70 1383.00,166.70 C1385.33,166.70 1387.67,169.20 1390.00,169.20 C1419.33,169.20 1448.67,169.20 1478.00,169.20 C1479.33,169.20 1480.67,176.40 1482.00,180.00 C1484.60,187.03 1487.20,201.10 1489.80,201.10 C1491.20,201.10 1492.60,195.02 1494.00,190.00 C1495.27,185.46 1496.53,169.21 1497.80,169.20 C1527.53,168.91 1557.27,169.00 1587.00,168.90 L1587.0,169.3 L49.0,169.3 Z" fill="#c47471" fill-opacity="0.22" stroke="none"/></g>
<g stroke="#ffffff" stroke-opacity="0.22" stroke-width="1"><line x1="46" y1="35.6" x2="1588.4" y2="35.6"/><line x1="46" y1="73.80000000000001" x2="1588.4" y2="73.80000000000001"/><line x1="46" y1="112.0" x2="1588.4" y2="112.0"/><line x1="46" y1="150.20000000000002" x2="1588.4" y2="150.20000000000002"/><line x1="46" y1="188.4" x2="1588.4" y2="188.4"/><line x1="46" y1="226.6" x2="1588.4" y2="226.6"/><line x1="46" y1="264.8" x2="1588.4" y2="264.8"/><line x1="46" y1="303.00000000000006" x2="1588.4" y2="303.00000000000006"/><line x1="104.7" y1="35.6" x2="104.7" y2="303"/><line x1="179.48000000000002" y1="35.6" x2="179.48000000000002" y2="303"/><line x1="254.26" y1="35.6" x2="254.26" y2="303"/><line x1="329.04" y1="35.6" x2="329.04" y2="303"/><line x1="403.82" y1="35.6" x2="403.82" y2="303"/><line x1="478.59999999999997" y1="35.6" x2="478.59999999999997" y2="303"/><line x1="553.38" y1="35.6" x2="553.38" y2="303"/><line x1="628.1600000000001" y1="35.6" x2="628.1600000000001" y2="303"/><line x1="702.94" y1="35.6" x2="702.94" y2="303"/><line x1="777.72" y1="35.6" x2="777.72" y2="303"/><line x1="852.5" y1="35.6" x2="852.5" y2="303"/><line x1="927.2800000000001" y1="35.6" x2="927.2800000000001" y2="303"/><line x1="1002.0600000000001" y1="35.6" x2="1002.0600000000001" y2="303"/><line x1="1076.84" y1="35.6" x2="1076.84" y2="303"/><line x1="1151.6200000000001" y1="35.6" x2="1151.6200000000001" y2="303"/><line x1="1226.4" y1="35.6" x2="1226.4" y2="303"/><line x1="1301.18" y1="35.6" x2="1301.18" y2="303"/><line x1="1375.96" y1="35.6" x2="1375.96" y2="303"/><line x1="1450.74" y1="35.6" x2="1450.74" y2="303"/><line x1="1525.52" y1="35.6" x2="1525.52" y2="303"/></g>
<g clip-path="url(#c1)"><path d="M54.20,151.90 C70.77,151.90 87.33,151.90 103.90,151.90 C105.27,151.90 106.63,152.77 108.00,153.50 C109.67,154.40 111.33,156.23 113.00,158.00 C114.67,159.77 116.33,162.38 118.00,164.50 C119.33,166.20 120.67,168.37 122.00,169.50 C123.07,170.41 124.13,171.60 125.20,171.60 C137.67,171.60 150.13,171.60 162.60,171.60 C163.73,171.60 164.87,169.79 166.00,168.00 C167.00,166.42 168.00,161.29 169.00,159.00 C170.30,156.02 171.60,151.90 172.90,151.90 C179.37,151.90 185.83,151.90 192.30,151.90 C194.20,151.90 196.10,159.40 198.00,163.00 C199.97,166.73 201.93,173.90 203.90,173.90 C205.93,173.90 207.97,164.86 210.00,160.00 C211.33,156.81 212.67,152.50 214.00,150.00 C215.60,147.00 217.20,142.90 218.80,142.90 C220.87,142.90 222.93,147.30 225.00,148.10 C226.97,148.86 228.93,148.78 230.90,149.60 C233.10,150.52 235.30,156.78 237.50,157.70 C239.47,158.52 241.43,158.55 243.40,159.20 C247.10,160.43 250.80,163.14 254.50,165.10 C258.43,167.18 262.37,171.30 266.30,171.30 C289.03,171.30 311.77,171.30 334.50,171.30 C335.20,171.30 335.90,212.15 336.60,230.00 C337.43,251.24 338.27,288.30 339.10,288.30 C340.47,288.30 341.83,287.46 343.20,286.70 C345.43,285.46 347.67,282.41 349.90,279.20 C352.10,276.04 354.30,270.90 356.50,266.00 C358.70,261.10 360.90,255.19 363.10,249.40 C365.30,243.61 367.50,237.22 369.70,231.20 C371.93,225.09 374.17,218.83 376.40,213.00 C378.60,207.25 380.80,201.30 383.00,196.40 C384.63,192.76 386.27,188.41 387.90,186.50 C389.57,184.55 391.23,182.40 392.90,182.40 C395.10,182.40 397.30,182.40 399.50,182.40 C409.43,182.40 419.37,182.88 429.30,183.20 C432.87,183.31 436.43,183.60 440.00,183.60 C528.53,183.60 617.07,183.60 705.60,183.60 C706.23,183.60 706.87,135.74 707.50,120.00 C708.47,95.98 709.43,64.40 710.40,64.40 C711.93,64.40 713.47,64.43 715.00,64.50 C716.27,64.55 717.53,65.81 718.80,67.00 C720.20,68.31 721.60,71.34 723.00,74.00 C724.80,77.42 726.60,81.75 728.40,86.10 C731.60,93.83 734.80,103.12 738.00,111.70 C741.17,120.19 744.33,129.40 747.50,137.30 C750.70,145.29 753.90,154.43 757.10,159.60 C759.30,163.15 761.50,166.70 763.70,168.00 C765.67,169.16 767.63,170.30 769.60,170.30 C771.57,170.30 773.53,158.12 775.50,156.10 C779.47,152.03 783.43,153.50 787.40,149.00 C788.60,147.64 789.80,141.80 791.00,138.00 C792.17,134.31 793.33,126.50 794.50,126.50 C796.87,126.50 799.23,127.98 801.60,130.00 C803.07,131.25 804.53,137.08 806.00,140.00 C807.70,143.39 809.40,148.21 811.10,149.00 C813.47,150.09 815.83,150.70 818.20,150.80 C838.80,151.69 859.40,151.01 880.00,151.90 C882.67,152.01 885.33,153.33 888.00,154.00 C890.50,154.63 893.00,155.80 895.50,155.80 C911.00,155.80 926.50,155.80 942.00,155.80 C943.33,155.80 944.67,154.16 946.00,153.50 C947.23,152.89 948.47,151.90 949.70,151.90 C956.60,151.90 963.50,151.90 970.40,151.90 C971.93,151.90 973.47,158.90 975.00,162.00 C976.90,165.84 978.80,172.60 980.70,172.60 C982.80,172.60 984.90,159.13 987.00,155.00 C989.57,149.95 992.13,143.50 994.70,143.50 C997.23,143.50 999.77,148.54 1002.30,149.10 C1007.67,150.30 1013.03,150.10 1018.40,151.00 C1021.60,151.54 1024.80,152.75 1028.00,153.50 C1031.10,154.23 1034.20,155.50 1037.30,155.50 C1059.70,155.50 1082.10,155.50 1104.50,155.50 C1105.00,155.50 1105.50,200.92 1106.00,215.00 C1106.93,241.29 1107.87,273.02 1108.80,273.20 C1109.87,273.40 1110.93,273.50 1112.00,273.50 C1114.13,273.50 1116.27,270.65 1118.40,268.40 C1120.60,266.08 1122.80,261.83 1125.00,258.00 C1127.07,254.41 1129.13,250.58 1131.20,246.00 C1133.13,241.71 1135.07,235.85 1137.00,231.00 C1139.33,225.15 1141.67,219.94 1144.00,214.00 C1146.00,208.91 1148.00,203.04 1150.00,198.00 C1152.23,192.37 1154.47,185.18 1156.70,182.00 C1158.47,179.48 1160.23,177.62 1162.00,176.50 C1163.43,175.59 1164.87,174.50 1166.30,174.50 C1169.20,174.50 1172.10,175.70 1175.00,175.70 C1244.57,175.70 1314.13,175.70 1383.70,175.70 C1384.47,175.70 1385.23,148.30 1386.00,130.00 C1386.83,110.11 1387.67,54.80 1388.50,54.80 C1389.33,54.80 1390.17,104.79 1391.00,130.00 C1391.50,145.13 1392.00,175.60 1392.50,175.60 C1395.67,175.60 1398.83,175.60 1402.00,175.60 C1402.50,175.60 1403.00,129.12 1403.50,110.00 C1404.03,89.61 1404.57,55.80 1405.10,55.80 C1406.73,55.80 1408.37,56.33 1410.00,57.00 C1412.63,58.08 1415.27,66.67 1417.90,72.00 C1420.37,76.99 1422.83,83.02 1425.30,88.00 C1428.67,94.80 1432.03,100.55 1435.40,107.00 C1438.73,113.38 1442.07,119.52 1445.40,126.50 C1447.27,130.41 1449.13,134.91 1451.00,139.00 C1452.50,142.29 1454.00,146.42 1455.50,148.70 C1457.00,150.98 1458.50,153.06 1460.00,154.00 C1461.93,155.21 1463.87,156.40 1465.80,156.40 C1467.20,156.40 1468.60,149.10 1470.00,145.00 C1471.80,139.73 1473.60,128.32 1475.40,127.70 C1478.60,126.59 1481.80,126.10 1485.00,126.10 C1487.33,126.10 1489.67,131.32 1492.00,135.00 C1493.93,138.05 1495.87,144.97 1497.80,146.80 C1499.93,148.82 1502.07,150.63 1504.20,150.70 C1525.40,151.41 1546.60,151.50 1567.80,151.50 C1570.87,151.50 1573.93,147.18 1577.00,145.00 C1580.17,142.75 1583.33,140.47 1586.50,138.20" fill="none" stroke="#adc5a4" stroke-width="1.4" stroke-linejoin="round"/><path d="M54.20,159.40 C70.77,159.40 87.33,159.40 103.90,159.40 C105.27,159.40 106.63,159.99 108.00,160.50 C110.00,161.25 112.00,162.96 114.00,164.50 C116.00,166.04 118.00,168.36 120.00,170.00 C121.33,171.09 122.67,172.31 124.00,173.00 C125.27,173.65 126.53,174.50 127.80,174.50 C138.77,174.50 149.73,174.50 160.70,174.50 C161.80,174.50 162.90,173.15 164.00,172.00 C165.33,170.61 166.67,166.99 168.00,165.00 C169.43,162.86 170.87,159.40 172.30,159.40 C178.97,159.40 185.63,159.40 192.30,159.40 C194.87,159.40 197.43,161.69 200.00,163.00 C203.00,164.53 206.00,168.10 209.00,168.10 C211.67,168.10 214.33,162.68 217.00,160.00 C218.67,158.32 220.33,155.72 222.00,155.00 C223.30,154.44 224.60,154.03 225.90,153.90 C227.60,153.73 229.30,153.60 231.00,153.60 C233.17,153.60 235.33,162.16 237.50,163.20 C240.70,164.73 243.90,164.69 247.10,165.80 C250.07,166.82 253.03,168.68 256.00,170.00 C259.43,171.52 262.87,174.30 266.30,174.30 C288.90,174.30 311.50,174.30 334.10,174.30 C334.87,174.30 335.63,199.50 336.40,199.50 C339.27,199.50 342.13,198.98 345.00,198.50 C347.50,198.08 350.00,197.15 352.50,196.30 C356.67,194.88 360.83,192.69 365.00,191.00 C370.00,188.97 375.00,186.83 380.00,185.20 C383.00,184.22 386.00,182.60 389.00,182.60 C489.20,182.60 589.40,182.60 689.60,182.60 C692.40,182.60 695.20,180.71 698.00,180.60 C701.07,180.48 704.13,180.56 707.20,180.40 C708.13,180.35 709.07,158.00 710.00,158.00 C712.93,158.00 715.87,158.00 718.80,158.00 C721.87,158.00 724.93,160.24 728.00,161.50 C731.33,162.87 734.67,164.65 738.00,166.00 C744.20,168.51 750.40,171.87 756.60,172.70 C761.33,173.33 766.07,173.90 770.80,173.90 C772.20,173.90 773.60,169.27 775.00,167.00 C776.77,164.13 778.53,160.67 780.30,158.50 C782.87,155.34 785.43,152.50 788.00,151.00 C790.57,149.50 793.13,147.80 795.70,147.80 C797.80,147.80 799.90,149.10 802.00,150.00 C804.23,150.95 806.47,152.09 808.70,153.70 C810.30,154.86 811.90,158.47 813.50,158.50 C835.67,158.96 857.83,158.54 880.00,159.00 C881.33,159.03 882.67,160.57 884.00,161.50 C885.67,162.66 887.33,164.47 889.00,165.50 C890.73,166.57 892.47,168.10 894.20,168.10 C910.13,168.10 926.07,168.10 942.00,168.10 C943.00,168.10 944.00,166.13 945.00,165.00 C946.57,163.22 948.13,159.00 949.70,159.00 C957.03,159.00 964.37,159.00 971.70,159.00 C973.13,159.00 974.57,162.94 976.00,165.00 C977.67,167.39 979.33,172.40 981.00,172.40 C982.00,172.40 983.00,165.14 984.00,162.00 C985.17,158.34 986.33,152.63 987.50,152.00 C990.00,150.64 992.50,150.00 995.00,150.00 C998.07,150.00 1001.13,151.30 1004.20,153.40 C1005.77,154.48 1007.33,163.26 1008.90,163.80 C1015.23,165.99 1021.57,165.75 1027.90,166.70 C1031.03,167.17 1034.17,168.10 1037.30,168.10 C1059.70,168.10 1082.10,168.10 1104.50,168.10 C1105.00,168.10 1105.50,177.23 1106.00,180.00 C1107.10,186.10 1108.20,193.20 1109.30,193.20 C1112.20,193.20 1115.10,192.18 1118.00,191.50 C1121.33,190.71 1124.67,189.61 1128.00,188.50 C1132.00,187.17 1136.00,185.51 1140.00,184.00 C1144.50,182.31 1149.00,180.25 1153.50,178.90 C1157.77,177.62 1162.03,175.70 1166.30,175.70 C1169.53,175.70 1172.77,176.60 1176.00,176.60 C1245.67,176.60 1315.33,176.60 1385.00,176.60 C1386.17,176.60 1387.33,153.30 1388.50,153.30 C1389.57,153.30 1390.63,175.60 1391.70,175.60 C1395.13,175.60 1398.57,175.60 1402.00,175.60 C1403.00,175.60 1404.00,152.60 1405.00,152.60 C1408.33,152.60 1411.67,154.09 1415.00,155.00 C1421.30,156.72 1427.60,159.48 1433.90,161.20 C1439.27,162.67 1444.63,163.96 1450.00,165.00 C1455.27,166.02 1460.53,167.60 1465.80,167.60 C1467.20,167.60 1468.60,166.27 1470.00,165.00 C1471.67,163.49 1473.33,158.11 1475.00,156.00 C1477.27,153.12 1479.53,150.12 1481.80,149.50 C1483.87,148.94 1485.93,148.50 1488.00,148.50 C1490.20,148.50 1492.40,149.15 1494.60,150.00 C1496.73,150.82 1498.87,157.11 1501.00,158.00 C1502.67,158.70 1504.33,159.30 1506.00,159.30 C1526.60,159.30 1547.20,159.30 1567.80,159.30 C1570.53,159.30 1573.27,160.37 1576.00,161.00 C1579.50,161.81 1583.00,162.87 1586.50,163.80" fill="none" stroke="#eecf88" stroke-width="1.4" stroke-linejoin="round"/><path d="M54.20,148.30 C57.63,149.00 61.07,150.40 64.50,150.40 C67.10,150.40 69.70,148.30 72.30,148.30 C101.97,148.30 131.63,148.30 161.30,148.30 C163.03,148.30 164.77,147.00 166.50,147.00 C168.33,147.00 170.17,148.11 172.00,148.50 C175.77,149.31 179.53,150.40 183.30,150.40 C186.20,150.40 189.10,148.96 192.00,148.00 C195.77,146.75 199.53,143.20 203.30,143.20 C204.87,143.20 206.43,147.18 208.00,150.00 C209.67,153.00 211.33,158.17 213.00,162.00 C214.67,165.83 216.33,170.01 218.00,173.00 C219.77,176.17 221.53,180.82 223.30,181.00 C227.60,181.45 231.90,181.33 236.20,181.60 C240.80,181.89 245.40,182.29 250.00,182.90 C254.00,183.43 258.00,184.65 262.00,185.50 C266.60,186.48 271.20,187.72 275.80,188.40 C280.53,189.10 285.27,190.00 290.00,190.00 C299.33,190.00 308.67,189.89 318.00,189.50 C320.67,189.39 323.33,185.74 326.00,184.00 C328.47,182.39 330.93,179.40 333.40,179.40 C334.43,179.40 335.47,182.60 336.50,182.60 C357.67,182.60 378.83,182.60 400.00,182.60 C404.00,182.60 408.00,186.08 412.00,187.00 C418.23,188.43 424.47,190.00 430.70,190.00 C512.73,190.00 594.77,190.00 676.80,190.00 C681.07,190.00 685.33,184.53 689.60,183.60 C694.73,182.48 699.87,181.99 705.00,181.50 C710.00,181.02 715.00,180.40 720.00,180.40 C741.97,180.40 763.93,180.40 785.90,180.40 C786.93,180.40 787.97,183.00 789.00,183.00 C790.67,183.00 792.33,178.31 794.00,175.00 C795.57,171.89 797.13,165.25 798.70,162.80 C801.13,159.00 803.57,157.16 806.00,155.00 C808.87,152.45 811.73,148.50 814.60,148.50 C818.33,148.50 822.07,150.70 825.80,150.70 C828.40,150.70 831.00,148.70 833.60,148.70 C873.17,148.70 912.73,148.70 952.30,148.70 C954.87,148.70 957.43,150.70 960.00,150.70 C963.33,150.70 966.67,147.83 970.00,146.50 C973.13,145.25 976.27,142.90 979.40,142.90 C982.27,142.90 985.13,154.10 988.00,160.00 C991.17,166.52 994.33,179.69 997.50,180.30 C1002.90,181.34 1008.30,181.13 1013.70,181.80 C1021.57,182.77 1029.43,184.91 1037.30,186.50 C1042.03,187.46 1046.77,189.40 1051.50,189.40 C1061.00,189.40 1070.50,189.40 1080.00,189.40 C1083.13,189.40 1086.27,188.09 1089.40,187.00 C1091.93,186.12 1094.47,184.36 1097.00,183.00 C1099.20,181.82 1101.40,179.40 1103.60,179.40 C1105.50,179.40 1107.40,182.70 1109.30,182.70 C1129.37,182.70 1149.43,182.70 1169.50,182.70 C1173.00,182.70 1176.50,185.08 1180.00,186.00 C1186.10,187.60 1192.20,190.00 1198.30,190.00 C1257.97,190.00 1317.63,190.00 1377.30,190.00 C1380.53,190.00 1383.77,182.70 1387.00,182.70 C1388.67,182.70 1390.33,184.00 1392.00,184.00 C1396.37,184.00 1400.73,179.40 1405.10,179.40 C1427.47,179.40 1449.83,180.40 1472.20,180.40 C1474.57,180.40 1476.93,175.36 1479.30,173.10 C1481.20,171.29 1483.10,170.07 1485.00,168.00 C1487.33,165.45 1489.67,161.25 1492.00,158.00 C1494.33,154.75 1496.67,149.18 1499.00,148.50 C1501.00,147.92 1503.00,147.50 1505.00,147.50 C1507.33,147.50 1509.67,149.50 1512.00,149.50 C1514.67,149.50 1517.33,148.50 1520.00,148.50 C1542.17,148.50 1564.33,148.50 1586.50,148.50" fill="none" stroke="#8dc4d0" stroke-width="1.4" stroke-linejoin="round"/><path d="M338.80,158.00 C343.37,156.40 347.93,155.21 352.50,153.20 C355.00,152.10 357.50,150.75 360.00,149.00 C362.00,147.60 364.00,145.25 366.00,143.50 C368.00,141.75 370.00,139.94 372.00,138.50 C374.67,136.58 377.33,135.09 380.00,133.50 C382.33,132.11 384.67,130.39 387.00,129.50 C389.33,128.61 391.67,127.80 394.00,127.50 C396.00,127.25 398.00,127.00 400.00,127.00 C502.93,127.00 605.87,127.00 708.80,127.00 C710.53,127.00 712.27,127.46 714.00,127.80 C716.00,128.20 718.00,128.85 720.00,129.50 C723.00,130.47 726.00,131.71 729.00,133.00 C732.00,134.29 735.00,135.37 738.00,137.30 C740.67,139.01 743.33,142.34 746.00,145.00 C748.63,147.63 751.27,151.64 753.90,153.20 C757.10,155.10 760.30,156.99 763.50,157.10 C767.50,157.23 771.50,157.28 775.50,157.30 C885.67,157.78 995.83,157.90 1106.00,157.90 C1109.07,157.90 1112.13,157.72 1115.20,157.40 C1117.47,157.16 1119.73,154.48 1122.00,153.00 C1125.07,150.99 1128.13,149.18 1131.20,146.90 C1134.13,144.72 1137.07,141.87 1140.00,139.50 C1143.43,136.72 1146.87,133.41 1150.30,131.50 C1152.53,130.25 1154.77,129.08 1157.00,128.50 C1159.57,127.83 1162.13,127.10 1164.70,127.10 C1244.83,127.00 1324.97,127.00 1405.10,127.00 C1407.40,127.00 1409.70,127.85 1412.00,128.50 C1416.10,129.66 1420.20,131.62 1424.30,134.00 C1426.87,135.49 1429.43,137.74 1432.00,140.00 C1434.77,142.43 1437.53,146.31 1440.30,148.40 C1442.53,150.09 1444.77,151.45 1447.00,152.50 C1449.00,153.44 1451.00,154.40 1453.00,154.80 C1457.27,155.66 1461.53,155.87 1465.80,156.40" fill="none" stroke="#cc9cc7" stroke-width="1.4" stroke-linejoin="round"/><path d="M49.00,169.30 C100.20,169.30 151.40,169.30 202.60,169.30 C204.07,169.30 205.53,163.30 207.00,160.00 C209.00,155.51 211.00,145.50 213.00,145.50 C214.67,145.50 216.33,147.65 218.00,150.00 C219.33,151.88 220.67,159.26 222.00,162.00 C223.30,164.67 224.60,167.64 225.90,168.10 C227.43,168.64 228.97,169.00 230.50,169.00 C231.67,169.00 232.83,121.56 234.00,100.00 C234.97,82.14 235.93,49.40 236.90,49.40 C238.27,49.40 239.63,51.31 241.00,53.00 C243.03,55.51 245.07,62.05 247.10,67.00 C248.40,70.16 249.70,73.94 251.00,77.00 C252.90,81.48 254.80,85.46 256.70,89.30 C258.13,92.19 259.57,95.40 261.00,97.50 C262.77,100.08 264.53,102.19 266.30,103.70 C267.87,105.04 269.43,106.90 271.00,106.90 C292.83,106.90 314.67,106.50 336.50,106.50 C358.33,106.50 380.17,106.56 402.00,106.90 C405.17,106.95 408.33,109.10 411.50,109.10 C506.33,109.10 601.17,109.10 696.00,109.10 C699.20,109.10 702.40,107.20 705.60,107.20 C727.17,107.20 748.73,107.21 770.30,107.50 C770.70,107.51 771.10,162.27 771.50,172.70 C772.17,190.08 772.83,195.08 773.50,205.00 C774.03,212.94 774.57,227.20 775.10,227.20 C775.73,227.20 776.37,215.63 777.00,210.00 C777.70,203.78 778.40,195.76 779.10,191.70 C780.67,182.62 782.23,177.44 783.80,172.70 C785.87,166.45 787.93,161.61 790.00,158.00 C791.67,155.09 793.33,152.83 795.00,151.00 C796.67,149.17 798.33,147.03 800.00,146.50 C801.73,145.95 803.47,145.50 805.20,145.50 C806.13,145.50 807.07,151.51 808.00,155.00 C809.03,158.87 810.07,167.17 811.10,168.00 C812.07,168.78 813.03,169.30 814.00,169.30 C865.97,169.30 917.93,169.30 969.90,169.30 C971.93,169.30 973.97,165.05 976.00,162.00 C978.00,159.00 980.00,152.38 982.00,150.00 C983.83,147.82 985.67,145.30 987.50,145.30 C989.33,145.30 991.17,147.09 993.00,149.00 C994.67,150.73 996.33,156.43 998.00,160.00 C999.43,163.07 1000.87,169.00 1002.30,169.00 C1003.77,169.00 1005.23,169.00 1006.70,169.00 C1007.30,169.00 1007.90,111.70 1008.50,90.00 C1008.93,74.33 1009.37,49.40 1009.80,49.40 C1010.87,49.40 1011.93,50.61 1013.00,51.50 C1014.60,52.84 1016.20,54.93 1017.80,57.40 C1019.20,59.56 1020.60,62.84 1022.00,66.00 C1023.80,70.06 1025.60,75.21 1027.40,79.70 C1028.93,83.53 1030.47,87.42 1032.00,91.00 C1033.67,94.89 1035.33,99.92 1037.00,102.10 C1039.13,104.89 1041.27,107.87 1043.40,107.90 C1087.60,108.47 1131.80,107.93 1176.00,108.50 C1177.33,108.52 1178.67,110.10 1180.00,110.10 C1247.67,110.10 1315.33,110.01 1383.00,109.50 C1388.67,109.46 1394.33,108.50 1400.00,108.50 C1421.93,108.50 1443.87,108.51 1465.80,109.10 C1466.33,109.11 1466.87,157.51 1467.40,169.20 C1468.27,188.20 1469.13,207.50 1470.00,207.50 C1471.00,207.50 1472.00,191.25 1473.00,185.00 C1473.80,180.00 1474.60,174.92 1475.40,172.00 C1476.93,166.40 1478.47,163.48 1480.00,160.00 C1481.67,156.22 1483.33,151.60 1485.00,150.00 C1487.67,147.43 1490.33,145.20 1493.00,145.20 C1494.33,145.20 1495.67,151.13 1497.00,155.00 C1498.33,158.87 1499.67,169.20 1501.00,169.20 C1529.67,169.30 1558.33,169.27 1587.00,169.30" fill="none" stroke="#e1a77f" stroke-width="1.4" stroke-linejoin="round"/><path d="M49.00,170.30 C97.00,170.30 145.00,170.30 193.00,170.30 C194.67,170.30 196.33,209.95 198.00,230.00 C199.67,250.05 201.33,290.60 203.00,290.60 C204.67,290.60 206.33,272.75 208.00,262.00 C209.67,251.25 211.33,237.42 213.00,225.00 C214.77,211.83 216.53,191.61 218.30,185.20 C219.53,180.73 220.77,178.40 222.00,176.00 C223.43,173.21 224.87,170.83 226.30,169.20 C226.87,168.55 227.43,167.60 228.00,167.60 C287.00,167.60 346.00,167.60 405.00,167.60 C406.33,167.60 407.67,170.53 409.00,171.50 C410.90,172.88 412.80,174.70 414.70,174.70 C509.00,174.70 603.30,174.70 697.60,174.70 C698.73,174.70 699.87,172.26 701.00,171.00 C702.00,169.89 703.00,167.60 704.00,167.60 C731.80,167.60 759.60,169.10 787.40,169.10 C788.10,169.10 788.80,124.63 789.50,110.00 C790.77,83.53 792.03,49.50 793.30,49.50 C794.87,49.50 796.43,60.13 798.00,68.00 C800.00,78.04 802.00,97.90 804.00,111.00 C805.97,123.88 807.93,134.51 809.90,146.60 C811.10,153.98 812.30,168.48 813.50,169.10 C814.60,169.67 815.70,170.00 816.80,170.00 C867.83,170.00 918.87,170.00 969.90,170.00 C971.60,170.00 973.30,209.88 975.00,230.00 C976.70,250.12 978.40,290.70 980.10,290.70 C982.07,290.70 984.03,266.99 986.00,255.00 C988.33,240.78 990.67,226.00 993.00,212.00 C995.43,197.40 997.87,170.23 1000.30,169.20 C1001.87,168.54 1003.43,168.10 1005.00,168.10 C1038.17,168.10 1071.33,168.10 1104.50,168.10 C1105.47,168.10 1106.43,167.70 1107.40,167.70 C1130.27,167.70 1153.13,167.70 1176.00,167.70 C1177.33,167.70 1178.67,170.90 1180.00,170.90 C1277.40,170.90 1374.80,170.90 1472.20,170.50 C1473.13,170.50 1474.07,127.91 1475.00,110.00 C1476.20,86.97 1477.40,48.40 1478.60,48.40 C1479.73,48.40 1480.87,49.99 1482.00,52.00 C1483.00,53.77 1484.00,61.67 1485.00,67.00 C1486.33,74.11 1487.67,82.03 1489.00,90.00 C1490.33,97.97 1491.67,105.82 1493.00,114.90 C1494.33,123.98 1495.67,136.06 1497.00,145.00 C1498.33,153.94 1499.67,168.62 1501.00,169.20 C1502.33,169.78 1503.67,170.10 1505.00,170.10 C1532.33,170.10 1559.67,170.10 1587.00,170.10" fill="none" stroke="#779dbe" stroke-width="1.4" stroke-linejoin="round"/><path d="M49.00,168.70 C100.20,168.70 151.40,168.70 202.60,168.70 C203.73,168.70 204.87,170.42 206.00,172.00 C207.67,174.33 209.33,181.46 211.00,186.00 C212.90,191.18 214.80,201.10 216.70,201.10 C217.80,201.10 218.90,198.41 220.00,196.00 C221.00,193.81 222.00,188.80 223.00,185.00 C224.10,180.82 225.20,172.67 226.30,172.00 C227.53,171.25 228.77,170.80 230.00,170.80 C287.33,170.80 344.67,170.80 402.00,170.80 C403.33,170.80 404.67,167.86 406.00,167.00 C407.83,165.82 409.67,164.40 411.50,164.40 C506.33,164.40 601.17,164.40 696.00,164.40 C697.33,164.40 698.67,166.43 700.00,167.50 C701.33,168.57 702.67,170.80 704.00,170.80 C731.80,170.80 759.60,169.50 787.40,169.50 C789.03,169.50 790.67,170.53 792.30,172.00 C793.53,173.11 794.77,179.23 796.00,183.00 C798.03,189.22 800.07,202.30 802.10,202.30 C803.40,202.30 804.70,198.87 806.00,196.00 C807.33,193.06 808.67,186.79 810.00,182.00 C811.17,177.81 812.33,169.11 813.50,169.10 C866.23,168.71 918.97,168.70 971.70,168.70 C975.37,168.70 979.03,169.71 982.70,172.00 C984.13,172.90 985.57,181.62 987.00,186.00 C988.77,191.40 990.53,201.20 992.30,201.20 C993.53,201.20 994.77,196.66 996.00,193.00 C997.00,190.03 998.00,183.94 999.00,180.00 C999.97,176.19 1000.93,169.50 1001.90,169.50 C1036.10,169.50 1070.30,169.50 1104.50,169.50 C1105.47,169.50 1106.43,170.90 1107.40,170.90 C1130.27,170.90 1153.13,170.90 1176.00,170.90 C1177.33,170.90 1178.67,166.70 1180.00,166.70 C1247.67,166.70 1315.33,166.70 1383.00,166.70 C1385.33,166.70 1387.67,169.20 1390.00,169.20 C1419.33,169.20 1448.67,169.20 1478.00,169.20 C1479.33,169.20 1480.67,176.40 1482.00,180.00 C1484.60,187.03 1487.20,201.10 1489.80,201.10 C1491.20,201.10 1492.60,195.02 1494.00,190.00 C1495.27,185.46 1496.53,169.21 1497.80,169.20 C1527.53,168.91 1557.27,169.00 1587.00,168.90" fill="none" stroke="#cf8381" stroke-width="1.4" stroke-linejoin="round"/></g>
<rect x="6.5" y="359.5" width="1619" height="126" fill="#4b4a4b" stroke="#555555" stroke-width="1"/>
<rect x="0" y="365" width="3.4" height="2.6" fill="#8a8a8a"/>
<rect x="0" y="369.5" width="3.4" height="2.8" fill="#8a8a8a"/>
<rect x="0" y="373.5" width="3.4" height="3.2" fill="#8a8a8a"/>
<text x="816.0" y="377.2" font-size="12" text-anchor="middle" fill="#e8e8e8" stroke="#e8e8e8" stroke-width="0" font-weight="bold" textLength="114" lengthAdjust="spacingAndGlyphs">Drucküberwachung</text>
<text x="35.5" y="393.7" font-size="10" text-anchor="end" fill="#e6e6e6" stroke="#e6e6e6" stroke-width="0.32" font-weight="normal">0.06</text>
<text x="35.5" y="417.7" font-size="10" text-anchor="end" fill="#e6e6e6" stroke="#e6e6e6" stroke-width="0.32" font-weight="normal">0.04</text>
<text x="35.5" y="441.7" font-size="10" text-anchor="end" fill="#e6e6e6" stroke="#e6e6e6" stroke-width="0.32" font-weight="normal">0.02</text>
<text x="35.5" y="465.7" font-size="10" text-anchor="end" fill="#e6e6e6" stroke="#e6e6e6" stroke-width="0.32" font-weight="normal">0</text>
<text x="1591.5" y="393.3" font-size="10" text-anchor="start" fill="#e6e6e6" stroke="#e6e6e6" stroke-width="0.32" font-weight="normal">0.100</text>
<line x1="1583" y1="389.7" x2="1587.5" y2="389.7" stroke="#6e6e6e"/>
<text x="1591.5" y="411.4" font-size="10" text-anchor="start" fill="#e6e6e6" stroke="#e6e6e6" stroke-width="0.32" font-weight="normal">0.075</text>
<line x1="1583" y1="407.8" x2="1587.5" y2="407.8" stroke="#6e6e6e"/>
<text x="1591.5" y="429.5" font-size="10" text-anchor="start" fill="#e6e6e6" stroke="#e6e6e6" stroke-width="0.32" font-weight="normal">0.050</text>
<line x1="1583" y1="425.9" x2="1587.5" y2="425.9" stroke="#6e6e6e"/>
<text x="1591.5" y="447.6" font-size="10" text-anchor="start" fill="#e6e6e6" stroke="#e6e6e6" stroke-width="0.32" font-weight="normal">0.025</text>
<line x1="1583" y1="444" x2="1587.5" y2="444" stroke="#6e6e6e"/>
<text x="1591.5" y="465.7" font-size="10" text-anchor="start" fill="#e6e6e6" stroke="#e6e6e6" stroke-width="0.32" font-weight="normal">0</text>
<line x1="1583" y1="462.1" x2="1587.5" y2="462.1" stroke="#6e6e6e"/>
<text x="98.6" y="477.8" font-size="9.7" text-anchor="middle" fill="#e6e6e6" stroke="#e6e6e6" stroke-width="0.32" font-weight="normal" textLength="36.6" lengthAdjust="spacingAndGlyphs">14:20:40</text>
<text x="173.4" y="477.8" font-size="9.7" text-anchor="middle" fill="#e6e6e6" stroke="#e6e6e6" stroke-width="0.32" font-weight="normal" textLength="36.6" lengthAdjust="spacingAndGlyphs">14:20:50</text>
<text x="248.2" y="477.8" font-size="9.7" text-anchor="middle" fill="#e6e6e6" stroke="#e6e6e6" stroke-width="0.32" font-weight="normal" textLength="36.6" lengthAdjust="spacingAndGlyphs">14:21:00</text>
<text x="323.1" y="477.8" font-size="9.7" text-anchor="middle" fill="#e6e6e6" stroke="#e6e6e6" stroke-width="0.32" font-weight="normal" textLength="36.6" lengthAdjust="spacingAndGlyphs">14:21:10</text>
<text x="397.9" y="477.8" font-size="9.7" text-anchor="middle" fill="#e6e6e6" stroke="#e6e6e6" stroke-width="0.32" font-weight="normal" textLength="36.6" lengthAdjust="spacingAndGlyphs">14:21:20</text>
<text x="472.7" y="477.8" font-size="9.7" text-anchor="middle" fill="#e6e6e6" stroke="#e6e6e6" stroke-width="0.32" font-weight="normal" textLength="36.6" lengthAdjust="spacingAndGlyphs">14:21:30</text>
<text x="547.5" y="477.8" font-size="9.7" text-anchor="middle" fill="#e6e6e6" stroke="#e6e6e6" stroke-width="0.32" font-weight="normal" textLength="36.6" lengthAdjust="spacingAndGlyphs">14:21:40</text>
<text x="622.3" y="477.8" font-size="9.7" text-anchor="middle" fill="#e6e6e6" stroke="#e6e6e6" stroke-width="0.32" font-weight="normal" textLength="36.6" lengthAdjust="spacingAndGlyphs">14:21:50</text>
<text x="697.2" y="477.8" font-size="9.7" text-anchor="middle" fill="#e6e6e6" stroke="#e6e6e6" stroke-width="0.32" font-weight="normal" textLength="36.6" lengthAdjust="spacingAndGlyphs">14:22:00</text>
<text x="772.0" y="477.8" font-size="9.7" text-anchor="middle" fill="#e6e6e6" stroke="#e6e6e6" stroke-width="0.32" font-weight="normal" textLength="36.6" lengthAdjust="spacingAndGlyphs">14:22:10</text>
<text x="846.8" y="477.8" font-size="9.7" text-anchor="middle" fill="#e6e6e6" stroke="#e6e6e6" stroke-width="0.32" font-weight="normal" textLength="36.6" lengthAdjust="spacingAndGlyphs">14:22:20</text>
<text x="921.6" y="477.8" font-size="9.7" text-anchor="middle" fill="#e6e6e6" stroke="#e6e6e6" stroke-width="0.32" font-weight="normal" textLength="36.6" lengthAdjust="spacingAndGlyphs">14:22:30</text>
<text x="996.4" y="477.8" font-size="9.7" text-anchor="middle" fill="#e6e6e6" stroke="#e6e6e6" stroke-width="0.32" font-weight="normal" textLength="36.6" lengthAdjust="spacingAndGlyphs">14:22:40</text>
<text x="1071.3" y="477.8" font-size="9.7" text-anchor="middle" fill="#e6e6e6" stroke="#e6e6e6" stroke-width="0.32" font-weight="normal" textLength="36.6" lengthAdjust="spacingAndGlyphs">14:22:50</text>
<text x="1146.1" y="477.8" font-size="9.7" text-anchor="middle" fill="#e6e6e6" stroke="#e6e6e6" stroke-width="0.32" font-weight="normal" textLength="36.6" lengthAdjust="spacingAndGlyphs">14:23:00</text>
<text x="1220.9" y="477.8" font-size="9.7" text-anchor="middle" fill="#e6e6e6" stroke="#e6e6e6" stroke-width="0.32" font-weight="normal" textLength="36.6" lengthAdjust="spacingAndGlyphs">14:23:10</text>
<text x="1295.7" y="477.8" font-size="9.7" text-anchor="middle" fill="#e6e6e6" stroke="#e6e6e6" stroke-width="0.32" font-weight="normal" textLength="36.6" lengthAdjust="spacingAndGlyphs">14:23:20</text>
<text x="1370.5" y="477.8" font-size="9.7" text-anchor="middle" fill="#e6e6e6" stroke="#e6e6e6" stroke-width="0.32" font-weight="normal" textLength="36.6" lengthAdjust="spacingAndGlyphs">14:23:30</text>
<text x="1445.4" y="477.8" font-size="9.7" text-anchor="middle" fill="#e6e6e6" stroke="#e6e6e6" stroke-width="0.32" font-weight="normal" textLength="36.6" lengthAdjust="spacingAndGlyphs">14:23:40</text>
<text x="1520.2" y="477.8" font-size="9.7" text-anchor="middle" fill="#e6e6e6" stroke="#e6e6e6" stroke-width="0.32" font-weight="normal" textLength="36.6" lengthAdjust="spacingAndGlyphs">14:23:50</text>
<rect x="1622.7" y="477.1" width="2" height="2" fill="#7c7c7c"/>
<rect x="1622.7" y="479.9" width="2" height="2" fill="#7c7c7c"/>
<rect x="1619.9" y="479.9" width="2" height="2" fill="#7c7c7c"/>
<rect x="1622.7" y="482.7" width="2" height="2" fill="#7c7c7c"/>
<rect x="1619.9" y="482.7" width="2" height="2" fill="#7c7c7c"/>
<rect x="1617.1" y="482.7" width="2" height="2" fill="#7c7c7c"/>
<g clip-path="url(#c2)"><path d="M41.30,395.20 C118.73,395.17 196.17,395.10 273.60,395.10 C275.37,395.10 277.13,447.00 278.90,447.00 C328.27,447.00 377.63,447.00 427.00,447.00 C434.67,447.00 442.33,444.45 450.00,442.90 C457.47,441.39 464.93,439.16 472.40,437.70 C484.93,435.25 497.47,433.39 510.00,431.50 C522.50,429.62 535.00,427.87 547.50,426.30 C560.00,424.73 572.50,423.29 585.00,422.00 C597.00,420.76 609.00,419.69 621.00,418.60 C634.00,417.42 647.00,416.29 660.00,415.20 C672.43,414.16 684.87,413.19 697.30,412.20 C709.87,411.19 722.43,410.18 735.00,409.20 C747.20,408.25 759.40,407.18 771.60,406.40 C784.40,405.58 797.20,404.95 810.00,404.30 C821.97,403.69 833.93,403.09 845.90,402.60 C858.93,402.07 871.97,401.64 885.00,401.20 C897.33,400.78 909.67,400.37 922.00,400.00 C938.00,399.53 954.00,399.07 970.00,398.70 C986.67,398.32 1003.33,397.85 1020.00,397.70 C1030.70,397.60 1041.40,397.50 1052.10,397.50 C1053.13,397.50 1054.17,437.60 1055.20,440.20 C1056.23,442.80 1057.27,444.34 1058.30,444.50 C1062.80,445.21 1067.30,445.40 1071.80,445.40 C1074.67,445.40 1077.53,443.70 1080.40,443.70 C1116.87,443.70 1153.33,443.70 1189.80,443.70 C1190.83,443.70 1191.87,446.40 1192.90,446.40 C1205.27,446.40 1217.63,441.26 1230.00,439.00 C1251.60,435.05 1273.20,431.56 1294.80,428.20 C1306.53,426.37 1318.27,424.48 1330.00,423.00 C1343.33,421.31 1356.67,420.02 1370.00,418.60 C1381.67,417.36 1393.33,416.02 1405.00,415.00 C1418.33,413.84 1431.67,413.01 1445.00,412.00 C1456.67,411.11 1468.33,410.07 1480.00,409.30 C1493.33,408.42 1506.67,407.71 1520.00,407.00 C1530.00,406.47 1540.00,406.00 1550.00,405.50 C1560.00,405.00 1570.00,404.50 1580.00,404.00 L1580.0,461.5 L41.3,461.5 Z" fill="#81bbc8" fill-opacity="0.22" stroke="none"/><path d="M41.3,461.0 L273.4,461.0 L277.0,391.7 L279.5,458.1 L428.2,458.7 L432.0,461.0 L1047.2,461.0 L1052.0,452.0 L1055.2,440.2 L1058.3,443.3 L1071.8,444.2 L1076.0,440.0 L1080.4,437.8 L1189.8,437.8 L1193.0,450.0 L1197.2,461.0 L1580.0,461.0 L1580.0,461.5 L41.3,461.5 Z" fill="#a3bc9a" fill-opacity="0.22" stroke="none"/><path d="M41.3,460.9 L1049.0,460.9 L1055.2,453.8 L1059.5,460.5 L1188.0,460.5 L1193.5,456.8 L1197.0,460.9 L1580.0,460.9 L1580.0,461.5 L41.3,461.5 Z" fill="#e2ca93" fill-opacity="0.22" stroke="none"/></g>
<g stroke="#ffffff" stroke-opacity="0.22" stroke-width="1"><line x1="40" y1="389.5" x2="1583" y2="389.5"/><line x1="40" y1="413.5" x2="1583" y2="413.5"/><line x1="40" y1="437.5" x2="1583" y2="437.5"/><line x1="40" y1="461.5" x2="1583" y2="461.5"/><line x1="98.6" y1="389.5" x2="98.6" y2="461.5"/><line x1="173.42" y1="389.5" x2="173.42" y2="461.5"/><line x1="248.23999999999998" y1="389.5" x2="248.23999999999998" y2="461.5"/><line x1="323.05999999999995" y1="389.5" x2="323.05999999999995" y2="461.5"/><line x1="397.88" y1="389.5" x2="397.88" y2="461.5"/><line x1="472.69999999999993" y1="389.5" x2="472.69999999999993" y2="461.5"/><line x1="547.52" y1="389.5" x2="547.52" y2="461.5"/><line x1="622.34" y1="389.5" x2="622.34" y2="461.5"/><line x1="697.16" y1="389.5" x2="697.16" y2="461.5"/><line x1="771.9799999999999" y1="389.5" x2="771.9799999999999" y2="461.5"/><line x1="846.8" y1="389.5" x2="846.8" y2="461.5"/><line x1="921.62" y1="389.5" x2="921.62" y2="461.5"/><line x1="996.4399999999999" y1="389.5" x2="996.4399999999999" y2="461.5"/><line x1="1071.2599999999998" y1="389.5" x2="1071.2599999999998" y2="461.5"/><line x1="1146.08" y1="389.5" x2="1146.08" y2="461.5"/><line x1="1220.8999999999999" y1="389.5" x2="1220.8999999999999" y2="461.5"/><line x1="1295.7199999999998" y1="389.5" x2="1295.7199999999998" y2="461.5"/><line x1="1370.5399999999997" y1="389.5" x2="1370.5399999999997" y2="461.5"/><line x1="1445.3599999999997" y1="389.5" x2="1445.3599999999997" y2="461.5"/><line x1="1520.1799999999998" y1="389.5" x2="1520.1799999999998" y2="461.5"/></g>
<g clip-path="url(#c2)"><path d="M41.30,395.20 C118.73,395.17 196.17,395.10 273.60,395.10 C275.37,395.10 277.13,447.00 278.90,447.00 C328.27,447.00 377.63,447.00 427.00,447.00 C434.67,447.00 442.33,444.45 450.00,442.90 C457.47,441.39 464.93,439.16 472.40,437.70 C484.93,435.25 497.47,433.39 510.00,431.50 C522.50,429.62 535.00,427.87 547.50,426.30 C560.00,424.73 572.50,423.29 585.00,422.00 C597.00,420.76 609.00,419.69 621.00,418.60 C634.00,417.42 647.00,416.29 660.00,415.20 C672.43,414.16 684.87,413.19 697.30,412.20 C709.87,411.19 722.43,410.18 735.00,409.20 C747.20,408.25 759.40,407.18 771.60,406.40 C784.40,405.58 797.20,404.95 810.00,404.30 C821.97,403.69 833.93,403.09 845.90,402.60 C858.93,402.07 871.97,401.64 885.00,401.20 C897.33,400.78 909.67,400.37 922.00,400.00 C938.00,399.53 954.00,399.07 970.00,398.70 C986.67,398.32 1003.33,397.85 1020.00,397.70 C1030.70,397.60 1041.40,397.50 1052.10,397.50 C1053.13,397.50 1054.17,437.60 1055.20,440.20 C1056.23,442.80 1057.27,444.34 1058.30,444.50 C1062.80,445.21 1067.30,445.40 1071.80,445.40 C1074.67,445.40 1077.53,443.70 1080.40,443.70 C1116.87,443.70 1153.33,443.70 1189.80,443.70 C1190.83,443.70 1191.87,446.40 1192.90,446.40 C1205.27,446.40 1217.63,441.26 1230.00,439.00 C1251.60,435.05 1273.20,431.56 1294.80,428.20 C1306.53,426.37 1318.27,424.48 1330.00,423.00 C1343.33,421.31 1356.67,420.02 1370.00,418.60 C1381.67,417.36 1393.33,416.02 1405.00,415.00 C1418.33,413.84 1431.67,413.01 1445.00,412.00 C1456.67,411.11 1468.33,410.07 1480.00,409.30 C1493.33,408.42 1506.67,407.71 1520.00,407.00 C1530.00,406.47 1540.00,406.00 1550.00,405.50 C1560.00,405.00 1570.00,404.50 1580.00,404.00" fill="none" stroke="#8dc4d0" stroke-width="1.4" stroke-linejoin="round"/><path d="M41.3,461.0 L273.4,461.0 L277.0,391.7 L279.5,458.1 L428.2,458.7 L432.0,461.0 L1047.2,461.0 L1052.0,452.0 L1055.2,440.2 L1058.3,443.3 L1071.8,444.2 L1076.0,440.0 L1080.4,437.8 L1189.8,437.8 L1193.0,450.0 L1197.2,461.0 L1580.0,461.0" fill="none" stroke="#adc5a4" stroke-width="1.4" stroke-linejoin="round"/><path d="M41.3,460.9 L1049.0,460.9 L1055.2,453.8 L1059.5,460.5 L1188.0,460.5 L1193.5,456.8 L1197.0,460.9 L1580.0,460.9" fill="none" stroke="#eecf88" stroke-width="1.4" stroke-linejoin="round"/></g>
<rect x="6.5" y="496.5" width="669" height="171" fill="#4b4a4b" stroke="#555555" stroke-width="1"/>
<rect x="0" y="502" width="3.4" height="2.6" fill="#8a8a8a"/>
<rect x="0" y="506.5" width="3.4" height="2.8" fill="#8a8a8a"/>
<rect x="0" y="510.5" width="3.4" height="3.2" fill="#8a8a8a"/>
<text x="341.0" y="513.6" font-size="12" text-anchor="middle" fill="#e8e8e8" stroke="#e8e8e8" stroke-width="0" font-weight="bold" textLength="222" lengthAdjust="spacingAndGlyphs">Position Traverse / Saugerbeschaltung</text>
<text x="33.0" y="530.0" font-size="10" text-anchor="end" fill="#e6e6e6" stroke="#e6e6e6" stroke-width="0.32" font-weight="normal">250</text>
<text x="33.0" y="549.1" font-size="10" text-anchor="end" fill="#e6e6e6" stroke="#e6e6e6" stroke-width="0.32" font-weight="normal">200</text>
<text x="33.0" y="568.2" font-size="10" text-anchor="end" fill="#e6e6e6" stroke="#e6e6e6" stroke-width="0.32" font-weight="normal">150</text>
<text x="33.0" y="587.3" font-size="10" text-anchor="end" fill="#e6e6e6" stroke="#e6e6e6" stroke-width="0.32" font-weight="normal">100</text>
<text x="33.0" y="606.4" font-size="10" text-anchor="end" fill="#e6e6e6" stroke="#e6e6e6" stroke-width="0.32" font-weight="normal">50</text>
<text x="33.0" y="625.4" font-size="10" text-anchor="end" fill="#e6e6e6" stroke="#e6e6e6" stroke-width="0.32" font-weight="normal">0</text>
<text x="633.0" y="530.1" font-size="10" text-anchor="start" fill="#e6e6e6" stroke="#e6e6e6" stroke-width="0.32" font-weight="normal">300 Mil</text>
<line x1="625" y1="526.5" x2="629" y2="526.5" stroke="#6e6e6e"/>
<text x="633.0" y="561.8" font-size="10" text-anchor="start" fill="#e6e6e6" stroke="#e6e6e6" stroke-width="0.32" font-weight="normal">200 Mil</text>
<line x1="625" y1="558.2" x2="629" y2="558.2" stroke="#6e6e6e"/>
<text x="633.0" y="593.8" font-size="10" text-anchor="start" fill="#e6e6e6" stroke="#e6e6e6" stroke-width="0.32" font-weight="normal">100 Mil</text>
<line x1="625" y1="590.2" x2="629" y2="590.2" stroke="#6e6e6e"/>
<text x="633.0" y="625.7" font-size="10" text-anchor="start" fill="#e6e6e6" stroke="#e6e6e6" stroke-width="0.32" font-weight="normal">0</text>
<line x1="625" y1="622.1" x2="629" y2="622.1" stroke="#6e6e6e"/>
<text x="116.7" y="637.3" font-size="9.7" text-anchor="middle" fill="#e6e6e6" stroke="#e6e6e6" stroke-width="0.32" font-weight="normal" textLength="36.6" lengthAdjust="spacingAndGlyphs">14:21:00</text>
<text x="201.9" y="637.3" font-size="9.7" text-anchor="middle" fill="#e6e6e6" stroke="#e6e6e6" stroke-width="0.32" font-weight="normal" textLength="36.6" lengthAdjust="spacingAndGlyphs">14:21:30</text>
<text x="287.2" y="637.3" font-size="9.7" text-anchor="middle" fill="#e6e6e6" stroke="#e6e6e6" stroke-width="0.32" font-weight="normal" textLength="36.6" lengthAdjust="spacingAndGlyphs">14:22:00</text>
<text x="372.5" y="637.3" font-size="9.7" text-anchor="middle" fill="#e6e6e6" stroke="#e6e6e6" stroke-width="0.32" font-weight="normal" textLength="36.6" lengthAdjust="spacingAndGlyphs">14:22:30</text>
<text x="457.8" y="637.3" font-size="9.7" text-anchor="middle" fill="#e6e6e6" stroke="#e6e6e6" stroke-width="0.32" font-weight="normal" textLength="36.6" lengthAdjust="spacingAndGlyphs">14:23:00</text>
<text x="543.1" y="637.3" font-size="9.7" text-anchor="middle" fill="#e6e6e6" stroke="#e6e6e6" stroke-width="0.32" font-weight="normal" textLength="36.6" lengthAdjust="spacingAndGlyphs">14:23:30</text>
<rect x="36.1" y="652.1" width="10.5" height="2.8" fill="#b0cea5"/>
<text x="50.8" y="657.8" font-size="10.4" text-anchor="start" fill="#e6e6e6" stroke="#e6e6e6" stroke-width="0.32" font-weight="normal" textLength="83.8" lengthAdjust="spacingAndGlyphs">Position_Traverse</text>
<rect x="472.7" y="652.1" width="10.0" height="2.8" fill="#f1d492"/>
<text x="486.7" y="657.8" font-size="10.4" text-anchor="start" fill="#e6e6e6" stroke="#e6e6e6" stroke-width="0.32" font-weight="normal" textLength="167.5" lengthAdjust="spacingAndGlyphs">Schaltzustand_Sauger_(kombiniert)</text>
<rect x="672.7" y="659.1" width="2" height="2" fill="#7c7c7c"/>
<rect x="672.7" y="661.9" width="2" height="2" fill="#7c7c7c"/>
<rect x="669.9" y="661.9" width="2" height="2" fill="#7c7c7c"/>
<rect x="672.7" y="664.7" width="2" height="2" fill="#7c7c7c"/>
<rect x="669.9" y="664.7" width="2" height="2" fill="#7c7c7c"/>
<rect x="667.1" y="664.7" width="2" height="2" fill="#7c7c7c"/>
<g><path d="M37.2,572.7 L190.0,572.7 L191.5,616.5 L239.7,616.5 L241.0,589.0 L480.5,589.0 L482.0,616.6 L513.2,616.6 L514.5,530.9 L623.9,530.9 L623.9,622 L37.2,622 Z" fill="#a3bc9a" fill-opacity="0.22" stroke="none"/><path d="M37.2,622.0 L126.5,622.0 L128.0,611.2 L183.9,611.2 L185.5,622.0 L420.7,622.0 L422.0,536.5 L475.4,536.5 L477.0,622.0 L623.9,622.0 L623.9,622 L37.2,622 Z" fill="#e2ca93" fill-opacity="0.22" stroke="none"/></g>
<g stroke="#ffffff" stroke-opacity="0.22" stroke-width="1"><line x1="37.2" y1="526.6" x2="624" y2="526.6"/><line x1="37.2" y1="545.7" x2="624" y2="545.7"/><line x1="37.2" y1="564.8" x2="624" y2="564.8"/><line x1="37.2" y1="583.9" x2="624" y2="583.9"/><line x1="37.2" y1="603" x2="624" y2="603"/><line x1="37.2" y1="622" x2="624" y2="622"/><line x1="116.7" y1="526.6" x2="116.7" y2="622"/><line x1="201.9" y1="526.6" x2="201.9" y2="622"/><line x1="287.2" y1="526.6" x2="287.2" y2="622"/><line x1="372.5" y1="526.6" x2="372.5" y2="622"/><line x1="457.8" y1="526.6" x2="457.8" y2="622"/><line x1="543.1" y1="526.6" x2="543.1" y2="622"/></g>
<g><path d="M37.2,572.7 L190.0,572.7 L191.5,616.5 L239.7,616.5 L241.0,589.0 L480.5,589.0 L482.0,616.6 L513.2,616.6 L514.5,530.9 L623.9,530.9" fill="none" stroke="#adc5a4" stroke-width="1.4" stroke-linejoin="round"/><path d="M37.2,622.0 L126.5,622.0 L128.0,611.2 L183.9,611.2 L185.5,622.0 L420.7,622.0 L422.0,536.5 L475.4,536.5 L477.0,622.0 L623.9,622.0" fill="none" stroke="#eecf88" stroke-width="1.4" stroke-linejoin="round"/></g>
<rect x="685.5" y="496.5" width="940" height="171" fill="#4b4a4b" stroke="#555555" stroke-width="1"/>
<rect x="0" y="502" width="3.4" height="2.6" fill="#8a8a8a"/>
<rect x="0" y="506.5" width="3.4" height="2.8" fill="#8a8a8a"/>
<rect x="0" y="510.5" width="3.4" height="3.2" fill="#8a8a8a"/>
<text x="1155.5" y="513.6" font-size="12" text-anchor="middle" fill="#e8e8e8" stroke="#e8e8e8" stroke-width="0" font-weight="bold" textLength="215.7" lengthAdjust="spacingAndGlyphs">Statusmeldung Ablage / Schweissung</text>
<text x="714.0" y="529.9" font-size="10" text-anchor="end" fill="#e6e6e6" stroke="#e6e6e6" stroke-width="0.32" font-weight="normal">1.25</text>
<text x="714.0" y="548.9" font-size="10" text-anchor="end" fill="#e6e6e6" stroke="#e6e6e6" stroke-width="0.32" font-weight="normal">1.00</text>
<text x="714.0" y="568.0" font-size="10" text-anchor="end" fill="#e6e6e6" stroke="#e6e6e6" stroke-width="0.32" font-weight="normal">0.75</text>
<text x="714.0" y="587.0" font-size="10" text-anchor="end" fill="#e6e6e6" stroke="#e6e6e6" stroke-width="0.32" font-weight="normal">0.50</text>
<text x="714.0" y="606.2" font-size="10" text-anchor="end" fill="#e6e6e6" stroke="#e6e6e6" stroke-width="0.32" font-weight="normal">0.25</text>
<text x="714.0" y="625.4" font-size="10" text-anchor="end" fill="#e6e6e6" stroke="#e6e6e6" stroke-width="0.32" font-weight="normal">0</text>
<text x="752.6" y="637.3" font-size="9.7" text-anchor="middle" fill="#e6e6e6" stroke="#e6e6e6" stroke-width="0.32" font-weight="normal" textLength="36.6" lengthAdjust="spacingAndGlyphs">14:20:40</text>
<text x="795.2" y="637.3" font-size="9.7" text-anchor="middle" fill="#e6e6e6" stroke="#e6e6e6" stroke-width="0.32" font-weight="normal" textLength="36.6" lengthAdjust="spacingAndGlyphs">14:20:50</text>
<text x="837.7" y="637.3" font-size="9.7" text-anchor="middle" fill="#e6e6e6" stroke="#e6e6e6" stroke-width="0.32" font-weight="normal" textLength="36.6" lengthAdjust="spacingAndGlyphs">14:21:00</text>
<text x="880.3" y="637.3" font-size="9.7" text-anchor="middle" fill="#e6e6e6" stroke="#e6e6e6" stroke-width="0.32" font-weight="normal" textLength="36.6" lengthAdjust="spacingAndGlyphs">14:21:10</text>
<text x="922.9" y="637.3" font-size="9.7" text-anchor="middle" fill="#e6e6e6" stroke="#e6e6e6" stroke-width="0.32" font-weight="normal" textLength="36.6" lengthAdjust="spacingAndGlyphs">14:21:20</text>
<text x="965.5" y="637.3" font-size="9.7" text-anchor="middle" fill="#e6e6e6" stroke="#e6e6e6" stroke-width="0.32" font-weight="normal" textLength="36.6" lengthAdjust="spacingAndGlyphs">14:21:30</text>
<text x="1008.0" y="637.3" font-size="9.7" text-anchor="middle" fill="#e6e6e6" stroke="#e6e6e6" stroke-width="0.32" font-weight="normal" textLength="36.6" lengthAdjust="spacingAndGlyphs">14:21:40</text>
<text x="1050.6" y="637.3" font-size="9.7" text-anchor="middle" fill="#e6e6e6" stroke="#e6e6e6" stroke-width="0.32" font-weight="normal" textLength="36.6" lengthAdjust="spacingAndGlyphs">14:21:50</text>
<text x="1093.2" y="637.3" font-size="9.7" text-anchor="middle" fill="#e6e6e6" stroke="#e6e6e6" stroke-width="0.32" font-weight="normal" textLength="36.6" lengthAdjust="spacingAndGlyphs">14:22:00</text>
<text x="1135.7" y="637.3" font-size="9.7" text-anchor="middle" fill="#e6e6e6" stroke="#e6e6e6" stroke-width="0.32" font-weight="normal" textLength="36.6" lengthAdjust="spacingAndGlyphs">14:22:10</text>
<text x="1178.3" y="637.3" font-size="9.7" text-anchor="middle" fill="#e6e6e6" stroke="#e6e6e6" stroke-width="0.32" font-weight="normal" textLength="36.6" lengthAdjust="spacingAndGlyphs">14:22:20</text>
<text x="1220.9" y="637.3" font-size="9.7" text-anchor="middle" fill="#e6e6e6" stroke="#e6e6e6" stroke-width="0.32" font-weight="normal" textLength="36.6" lengthAdjust="spacingAndGlyphs">14:22:30</text>
<text x="1263.4" y="637.3" font-size="9.7" text-anchor="middle" fill="#e6e6e6" stroke="#e6e6e6" stroke-width="0.32" font-weight="normal" textLength="36.6" lengthAdjust="spacingAndGlyphs">14:22:40</text>
<text x="1306.0" y="637.3" font-size="9.7" text-anchor="middle" fill="#e6e6e6" stroke="#e6e6e6" stroke-width="0.32" font-weight="normal" textLength="36.6" lengthAdjust="spacingAndGlyphs">14:22:50</text>
<text x="1348.6" y="637.3" font-size="9.7" text-anchor="middle" fill="#e6e6e6" stroke="#e6e6e6" stroke-width="0.32" font-weight="normal" textLength="36.6" lengthAdjust="spacingAndGlyphs">14:23:00</text>
<text x="1391.2" y="637.3" font-size="9.7" text-anchor="middle" fill="#e6e6e6" stroke="#e6e6e6" stroke-width="0.32" font-weight="normal" textLength="36.6" lengthAdjust="spacingAndGlyphs">14:23:10</text>
<text x="1433.7" y="637.3" font-size="9.7" text-anchor="middle" fill="#e6e6e6" stroke="#e6e6e6" stroke-width="0.32" font-weight="normal" textLength="36.6" lengthAdjust="spacingAndGlyphs">14:23:20</text>
<text x="1476.3" y="637.3" font-size="9.7" text-anchor="middle" fill="#e6e6e6" stroke="#e6e6e6" stroke-width="0.32" font-weight="normal" textLength="36.6" lengthAdjust="spacingAndGlyphs">14:23:30</text>
<text x="1518.9" y="637.3" font-size="9.7" text-anchor="middle" fill="#e6e6e6" stroke="#e6e6e6" stroke-width="0.32" font-weight="normal" textLength="36.6" lengthAdjust="spacingAndGlyphs">14:23:40</text>
<text x="1561.4" y="637.3" font-size="9.7" text-anchor="middle" fill="#e6e6e6" stroke="#e6e6e6" stroke-width="0.32" font-weight="normal" textLength="36.6" lengthAdjust="spacingAndGlyphs">14:23:50</text>
<rect x="715.4" y="652.1" width="10.0" height="2.8" fill="#b0cea5"/>
<text x="729.8" y="657.8" font-size="10.4" text-anchor="start" fill="#e6e6e6" stroke="#e6e6e6" stroke-width="0.32" font-weight="normal" textLength="87.8" lengthAdjust="spacingAndGlyphs">Start_Schweissung</text>
<rect x="827.2" y="652.1" width="9.899999999999977" height="2.8" fill="#f1d492"/>
<text x="841.1" y="657.8" font-size="10.4" text-anchor="start" fill="#e6e6e6" stroke="#e6e6e6" stroke-width="0.32" font-weight="normal" textLength="152.0" lengthAdjust="spacingAndGlyphs">Positionstransmitter_Sonotrode</text>
<rect x="1002" y="652.1" width="10" height="2.8" fill="#89cfde"/>
<text x="1016.0" y="657.8" font-size="10.4" text-anchor="start" fill="#e6e6e6" stroke="#e6e6e6" stroke-width="0.32" font-weight="normal" textLength="115.7" lengthAdjust="spacingAndGlyphs">Branson_Alarmmeldung</text>
<rect x="1140.6" y="652.1" width="10.0" height="2.8" fill="#f4aa79"/>
<text x="1154.5" y="657.8" font-size="10.4" text-anchor="start" fill="#e6e6e6" stroke="#e6e6e6" stroke-width="0.32" font-weight="normal" textLength="53.6" lengthAdjust="spacingAndGlyphs">CPOS_Start</text>
<rect x="1217" y="652.1" width="11" height="2.8" fill="#e78683"/>
<text x="1231.3" y="657.8" font-size="10.4" text-anchor="start" fill="#e6e6e6" stroke="#e6e6e6" stroke-width="0.32" font-weight="normal" textLength="87.4" lengthAdjust="spacingAndGlyphs">SPOS_MC_erreicht</text>
<rect x="1327.6" y="652.1" width="10.400000000000091" height="2.8" fill="#78a9d2"/>
<text x="1341.5" y="657.8" font-size="10.4" text-anchor="start" fill="#e6e6e6" stroke="#e6e6e6" stroke-width="0.32" font-weight="normal" textLength="65.0" lengthAdjust="spacingAndGlyphs">CCON_Enable</text>
<rect x="1622.7" y="659.1" width="2" height="2" fill="#7c7c7c"/>
<rect x="1622.7" y="661.9" width="2" height="2" fill="#7c7c7c"/>
<rect x="1619.9" y="661.9" width="2" height="2" fill="#7c7c7c"/>
<rect x="1622.7" y="664.7" width="2" height="2" fill="#7c7c7c"/>
<rect x="1619.9" y="664.7" width="2" height="2" fill="#7c7c7c"/>
<rect x="1617.1" y="664.7" width="2" height="2" fill="#7c7c7c"/>
<g><path d="M718.0,622.0 L964.5,622.0 L964.5,545.5 L966.5,545.5 L966.5,622.0 L1036.5,622.0 L1036.5,545.5 L1039.0,545.5 L1039.0,622.0 L1397.6,622.0 L1397.6,545.5 L1400.4,545.5 L1400.4,622.0 L1449.3,622.0 L1449.3,545.5 L1452.1,545.5 L1452.1,622.0 L1597.0,622.0 L1597.0,622 L718.0,622 Z" fill="#a3bc9a" fill-opacity="0.22" stroke="none"/><path d="M718.0,622.0 L1390.8,622.0 L1390.8,573.2 L1410.0,573.2 L1410.0,545.5 L1434.3,545.5 L1434.3,622.0 L1441.4,622.0 L1441.4,556.9 L1443.0,556.9 L1443.0,584.5 L1462.2,584.5 L1462.2,545.5 L1597.0,545.5 L1597.0,622 L718.0,622 Z" fill="#e2ca93" fill-opacity="0.22" stroke="none"/><path d="M718.0,622.0 L1597.0,622.0 L1597.0,622 L718.0,622 Z" fill="#81bbc8" fill-opacity="0.22" stroke="none"/><path d="M718.0,622.0 L1597.0,622.0 L1597.0,622 L718.0,622 Z" fill="#d99c73" fill-opacity="0.22" stroke="none"/><path d="M729.0,545.5 L948.9,545.5 L948.9,622.0 L954.0,622.0 L954.0,545.5 L1023.0,545.5 L1023.0,622.0 L1029.2,622.0 L1029.2,545.5 L1384.8,545.5 L1384.8,622.0 L1388.6,622.0 L1388.6,545.5 L1434.3,545.5 L1434.3,622.0 L1441.4,622.0 L1441.4,545.5 L1597.0,545.5 L1597.0,622 L729.0,622 Z" fill="#c47471" fill-opacity="0.22" stroke="none"/><path d="M718.0,545.5 L1597.0,545.5 L1597.0,622 L718.0,622 Z" fill="#678fb2" fill-opacity="0.22" stroke="none"/></g>
<g stroke="#ffffff" stroke-opacity="0.22" stroke-width="1"><line x1="718" y1="526.5" x2="1597" y2="526.5"/><line x1="718" y1="545.5" x2="1597" y2="545.5"/><line x1="718" y1="564.6" x2="1597" y2="564.6"/><line x1="718" y1="583.6" x2="1597" y2="583.6"/><line x1="718" y1="602.8" x2="1597" y2="602.8"/><line x1="718" y1="622" x2="1597" y2="622"/><line x1="752.6" y1="526.5" x2="752.6" y2="622"/><line x1="795.1700000000001" y1="526.5" x2="795.1700000000001" y2="622"/><line x1="837.74" y1="526.5" x2="837.74" y2="622"/><line x1="880.3100000000001" y1="526.5" x2="880.3100000000001" y2="622"/><line x1="922.88" y1="526.5" x2="922.88" y2="622"/><line x1="965.45" y1="526.5" x2="965.45" y2="622"/><line x1="1008.02" y1="526.5" x2="1008.02" y2="622"/><line x1="1050.5900000000001" y1="526.5" x2="1050.5900000000001" y2="622"/><line x1="1093.16" y1="526.5" x2="1093.16" y2="622"/><line x1="1135.73" y1="526.5" x2="1135.73" y2="622"/><line x1="1178.3" y1="526.5" x2="1178.3" y2="622"/><line x1="1220.87" y1="526.5" x2="1220.87" y2="622"/><line x1="1263.44" y1="526.5" x2="1263.44" y2="622"/><line x1="1306.01" y1="526.5" x2="1306.01" y2="622"/><line x1="1348.58" y1="526.5" x2="1348.58" y2="622"/><line x1="1391.15" y1="526.5" x2="1391.15" y2="622"/><line x1="1433.72" y1="526.5" x2="1433.72" y2="622"/><line x1="1476.29" y1="526.5" x2="1476.29" y2="622"/><line x1="1518.8600000000001" y1="526.5" x2="1518.8600000000001" y2="622"/><line x1="1561.43" y1="526.5" x2="1561.43" y2="622"/></g>
<g><path d="M718.0,622.0 L964.5,622.0 L964.5,545.5 L966.5,545.5 L966.5,622.0 L1036.5,622.0 L1036.5,545.5 L1039.0,545.5 L1039.0,622.0 L1397.6,622.0 L1397.6,545.5 L1400.4,545.5 L1400.4,622.0 L1449.3,622.0 L1449.3,545.5 L1452.1,545.5 L1452.1,622.0 L1597.0,622.0" fill="none" stroke="#adc5a4" stroke-width="1.4" stroke-linejoin="round"/><path d="M718.0,622.0 L1390.8,622.0 L1390.8,573.2 L1410.0,573.2 L1410.0,545.5 L1434.3,545.5 L1434.3,622.0 L1441.4,622.0 L1441.4,556.9 L1443.0,556.9 L1443.0,584.5 L1462.2,584.5 L1462.2,545.5 L1597.0,545.5" fill="none" stroke="#eecf88" stroke-width="1.4" stroke-linejoin="round"/><path d="M718.0,622.0 L1597.0,622.0" fill="none" stroke="#8dc4d0" stroke-width="1.4" stroke-linejoin="round"/><path d="M718.0,622.0 L1597.0,622.0" fill="none" stroke="#e1a77f" stroke-width="1.4" stroke-linejoin="round"/><path d="M729.0,545.5 L948.9,545.5 L948.9,622.0 L954.0,622.0 L954.0,545.5 L1023.0,545.5 L1023.0,622.0 L1029.2,622.0 L1029.2,545.5 L1384.8,545.5 L1384.8,622.0 L1388.6,622.0 L1388.6,545.5 L1434.3,545.5 L1434.3,622.0 L1441.4,622.0 L1441.4,545.5 L1597.0,545.5" fill="none" stroke="#cf8381" stroke-width="1.4" stroke-linejoin="round"/><path d="M718.0,545.5 L1597.0,545.5" fill="none" stroke="#779dbe" stroke-width="1.4" stroke-linejoin="round"/></g>
<rect x="6.5" y="678.5" width="1619" height="174" fill="#4b4a4b" stroke="#555555" stroke-width="1"/>
<rect x="0" y="684" width="3.4" height="2.6" fill="#8a8a8a"/>
<rect x="0" y="688.5" width="3.4" height="2.8" fill="#8a8a8a"/>
<rect x="0" y="692.5" width="3.4" height="3.2" fill="#8a8a8a"/>
<text x="816.0" y="694.9" font-size="12" text-anchor="middle" fill="#e8e8e8" stroke="#e8e8e8" stroke-width="0" font-weight="bold" textLength="70" lengthAdjust="spacingAndGlyphs">Branson log</text>
<text x="35.5" y="711.6" font-size="10" text-anchor="end" fill="#e6e6e6" stroke="#e6e6e6" stroke-width="0.32" font-weight="normal">1.25</text>
<text x="35.5" y="730.6" font-size="10" text-anchor="end" fill="#e6e6e6" stroke="#e6e6e6" stroke-width="0.32" font-weight="normal">1.00</text>
<text x="35.5" y="749.6" font-size="10" text-anchor="end" fill="#e6e6e6" stroke="#e6e6e6" stroke-width="0.32" font-weight="normal">0.75</text>
<text x="35.5" y="768.6" font-size="10" text-anchor="end" fill="#e6e6e6" stroke="#e6e6e6" stroke-width="0.32" font-weight="normal">0.50</text>
<text x="35.5" y="787.6" font-size="10" text-anchor="end" fill="#e6e6e6" stroke="#e6e6e6" stroke-width="0.32" font-weight="normal">0.25</text>
<text x="35.5" y="806.7" font-size="10" text-anchor="end" fill="#e6e6e6" stroke="#e6e6e6" stroke-width="0.32" font-weight="normal">0</text>
<text x="99.4" y="819.1" font-size="9.7" text-anchor="middle" fill="#e6e6e6" stroke="#e6e6e6" stroke-width="0.32" font-weight="normal" textLength="36.6" lengthAdjust="spacingAndGlyphs">14:20:40</text>
<text x="174.9" y="819.1" font-size="9.7" text-anchor="middle" fill="#e6e6e6" stroke="#e6e6e6" stroke-width="0.32" font-weight="normal" textLength="36.6" lengthAdjust="spacingAndGlyphs">14:20:50</text>
<text x="250.3" y="819.1" font-size="9.7" text-anchor="middle" fill="#e6e6e6" stroke="#e6e6e6" stroke-width="0.32" font-weight="normal" textLength="36.6" lengthAdjust="spacingAndGlyphs">14:21:00</text>
<text x="325.8" y="819.1" font-size="9.7" text-anchor="middle" fill="#e6e6e6" stroke="#e6e6e6" stroke-width="0.32" font-weight="normal" textLength="36.6" lengthAdjust="spacingAndGlyphs">14:21:10</text>
<text x="401.3" y="819.1" font-size="9.7" text-anchor="middle" fill="#e6e6e6" stroke="#e6e6e6" stroke-width="0.32" font-weight="normal" textLength="36.6" lengthAdjust="spacingAndGlyphs">14:21:20</text>
<text x="476.8" y="819.1" font-size="9.7" text-anchor="middle" fill="#e6e6e6" stroke="#e6e6e6" stroke-width="0.32" font-weight="normal" textLength="36.6" lengthAdjust="spacingAndGlyphs">14:21:30</text>
<text x="552.2" y="819.1" font-size="9.7" text-anchor="middle" fill="#e6e6e6" stroke="#e6e6e6" stroke-width="0.32" font-weight="normal" textLength="36.6" lengthAdjust="spacingAndGlyphs">14:21:40</text>
<text x="627.7" y="819.1" font-size="9.7" text-anchor="middle" fill="#e6e6e6" stroke="#e6e6e6" stroke-width="0.32" font-weight="normal" textLength="36.6" lengthAdjust="spacingAndGlyphs">14:21:50</text>
<text x="703.2" y="819.1" font-size="9.7" text-anchor="middle" fill="#e6e6e6" stroke="#e6e6e6" stroke-width="0.32" font-weight="normal" textLength="36.6" lengthAdjust="spacingAndGlyphs">14:22:00</text>
<text x="778.6" y="819.1" font-size="9.7" text-anchor="middle" fill="#e6e6e6" stroke="#e6e6e6" stroke-width="0.32" font-weight="normal" textLength="36.6" lengthAdjust="spacingAndGlyphs">14:22:10</text>
<text x="854.1" y="819.1" font-size="9.7" text-anchor="middle" fill="#e6e6e6" stroke="#e6e6e6" stroke-width="0.32" font-weight="normal" textLength="36.6" lengthAdjust="spacingAndGlyphs">14:22:20</text>
<text x="929.6" y="819.1" font-size="9.7" text-anchor="middle" fill="#e6e6e6" stroke="#e6e6e6" stroke-width="0.32" font-weight="normal" textLength="36.6" lengthAdjust="spacingAndGlyphs">14:22:30</text>
<text x="1005.0" y="819.1" font-size="9.7" text-anchor="middle" fill="#e6e6e6" stroke="#e6e6e6" stroke-width="0.32" font-weight="normal" textLength="36.6" lengthAdjust="spacingAndGlyphs">14:22:40</text>
<text x="1080.5" y="819.1" font-size="9.7" text-anchor="middle" fill="#e6e6e6" stroke="#e6e6e6" stroke-width="0.32" font-weight="normal" textLength="36.6" lengthAdjust="spacingAndGlyphs">14:22:50</text>
<text x="1156.0" y="819.1" font-size="9.7" text-anchor="middle" fill="#e6e6e6" stroke="#e6e6e6" stroke-width="0.32" font-weight="normal" textLength="36.6" lengthAdjust="spacingAndGlyphs">14:23:00</text>
<text x="1231.5" y="819.1" font-size="9.7" text-anchor="middle" fill="#e6e6e6" stroke="#e6e6e6" stroke-width="0.32" font-weight="normal" textLength="36.6" lengthAdjust="spacingAndGlyphs">14:23:10</text>
<text x="1306.9" y="819.1" font-size="9.7" text-anchor="middle" fill="#e6e6e6" stroke="#e6e6e6" stroke-width="0.32" font-weight="normal" textLength="36.6" lengthAdjust="spacingAndGlyphs">14:23:20</text>
<text x="1382.4" y="819.1" font-size="9.7" text-anchor="middle" fill="#e6e6e6" stroke="#e6e6e6" stroke-width="0.32" font-weight="normal" textLength="36.6" lengthAdjust="spacingAndGlyphs">14:23:30</text>
<text x="1457.9" y="819.1" font-size="9.7" text-anchor="middle" fill="#e6e6e6" stroke="#e6e6e6" stroke-width="0.32" font-weight="normal" textLength="36.6" lengthAdjust="spacingAndGlyphs">14:23:40</text>
<text x="1533.3" y="819.1" font-size="9.7" text-anchor="middle" fill="#e6e6e6" stroke="#e6e6e6" stroke-width="0.32" font-weight="normal" textLength="36.6" lengthAdjust="spacingAndGlyphs">14:23:50</text>
<rect x="36.1" y="833.6" width="10.899999999999999" height="2.8" fill="#b0cea5"/>
<text x="50.9" y="839.3" font-size="10.4" text-anchor="start" fill="#e6e6e6" stroke="#e6e6e6" stroke-width="0.32" font-weight="normal" textLength="29.6" lengthAdjust="spacingAndGlyphs">Power</text>
<rect x="89" y="833.6" width="11.200000000000003" height="2.8" fill="#f1d492"/>
<text x="103.8" y="839.3" font-size="10.4" text-anchor="start" fill="#e6e6e6" stroke="#e6e6e6" stroke-width="0.32" font-weight="normal" textLength="49.3" lengthAdjust="spacingAndGlyphs">Amplitude</text>
<g><path d="M41.3,803.7 L469.5,803.7 L473.6,792.6 L477.8,803.7 L601.0,803.7 L606.4,792.6 L610.0,803.7 L1239.8,803.7 L1243.8,792.6 L1248.5,803.7 L1333.8,803.7 L1337.3,792.6 L1341.0,803.7 L1594.5,803.7 L1594.5,803.3 L41.3,803.3 Z" fill="#a3bc9a" fill-opacity="0.22" stroke="none"/><path d="M41.3,803.7 L469.2,803.7 L473.0,727.2 L474.2,727.2 L478.5,803.7 L597.5,803.7 L601.9,730.4 L606.1,727.2 L610.5,803.7 L1239.4,803.7 L1242.5,727.2 L1245.0,727.2 L1251.2,803.7 L1333.3,803.7 L1337.3,727.2 L1343.0,803.7 L1594.5,803.7 L1594.5,803.3 L41.3,803.3 Z" fill="#e2ca93" fill-opacity="0.22" stroke="none"/></g>
<g stroke="#ffffff" stroke-opacity="0.22" stroke-width="1"><line x1="40" y1="708.2" x2="1597.6" y2="708.2"/><line x1="40" y1="727.2" x2="1597.6" y2="727.2"/><line x1="40" y1="746.2" x2="1597.6" y2="746.2"/><line x1="40" y1="765.2" x2="1597.6" y2="765.2"/><line x1="40" y1="784.2" x2="1597.6" y2="784.2"/><line x1="40" y1="803.3" x2="1597.6" y2="803.3"/><line x1="99.4" y1="708.2" x2="99.4" y2="803.3"/><line x1="174.87" y1="708.2" x2="174.87" y2="803.3"/><line x1="250.34" y1="708.2" x2="250.34" y2="803.3"/><line x1="325.81" y1="708.2" x2="325.81" y2="803.3"/><line x1="401.28" y1="708.2" x2="401.28" y2="803.3"/><line x1="476.75" y1="708.2" x2="476.75" y2="803.3"/><line x1="552.22" y1="708.2" x2="552.22" y2="803.3"/><line x1="627.6899999999999" y1="708.2" x2="627.6899999999999" y2="803.3"/><line x1="703.16" y1="708.2" x2="703.16" y2="803.3"/><line x1="778.63" y1="708.2" x2="778.63" y2="803.3"/><line x1="854.1" y1="708.2" x2="854.1" y2="803.3"/><line x1="929.5699999999999" y1="708.2" x2="929.5699999999999" y2="803.3"/><line x1="1005.04" y1="708.2" x2="1005.04" y2="803.3"/><line x1="1080.51" y1="708.2" x2="1080.51" y2="803.3"/><line x1="1155.98" y1="708.2" x2="1155.98" y2="803.3"/><line x1="1231.45" y1="708.2" x2="1231.45" y2="803.3"/><line x1="1306.92" y1="708.2" x2="1306.92" y2="803.3"/><line x1="1382.39" y1="708.2" x2="1382.39" y2="803.3"/><line x1="1457.8600000000001" y1="708.2" x2="1457.8600000000001" y2="803.3"/><line x1="1533.3300000000002" y1="708.2" x2="1533.3300000000002" y2="803.3"/></g>
<g><path d="M41.3,803.7 L469.5,803.7 L473.6,792.6 L477.8,803.7 L601.0,803.7 L606.4,792.6 L610.0,803.7 L1239.8,803.7 L1243.8,792.6 L1248.5,803.7 L1333.8,803.7 L1337.3,792.6 L1341.0,803.7 L1594.5,803.7" fill="none" stroke="#adc5a4" stroke-width="1.4" stroke-linejoin="round"/><path d="M41.3,803.7 L469.2,803.7 L473.0,727.2 L474.2,727.2 L478.5,803.7 L597.5,803.7 L601.9,730.4 L606.1,727.2 L610.5,803.7 L1239.4,803.7 L1242.5,727.2 L1245.0,727.2 L1251.2,803.7 L1333.3,803.7 L1337.3,727.2 L1343.0,803.7 L1594.5,803.7" fill="none" stroke="#eecf88" stroke-width="1.4" stroke-linejoin="round"/></g>
</svg>
</body></html>
